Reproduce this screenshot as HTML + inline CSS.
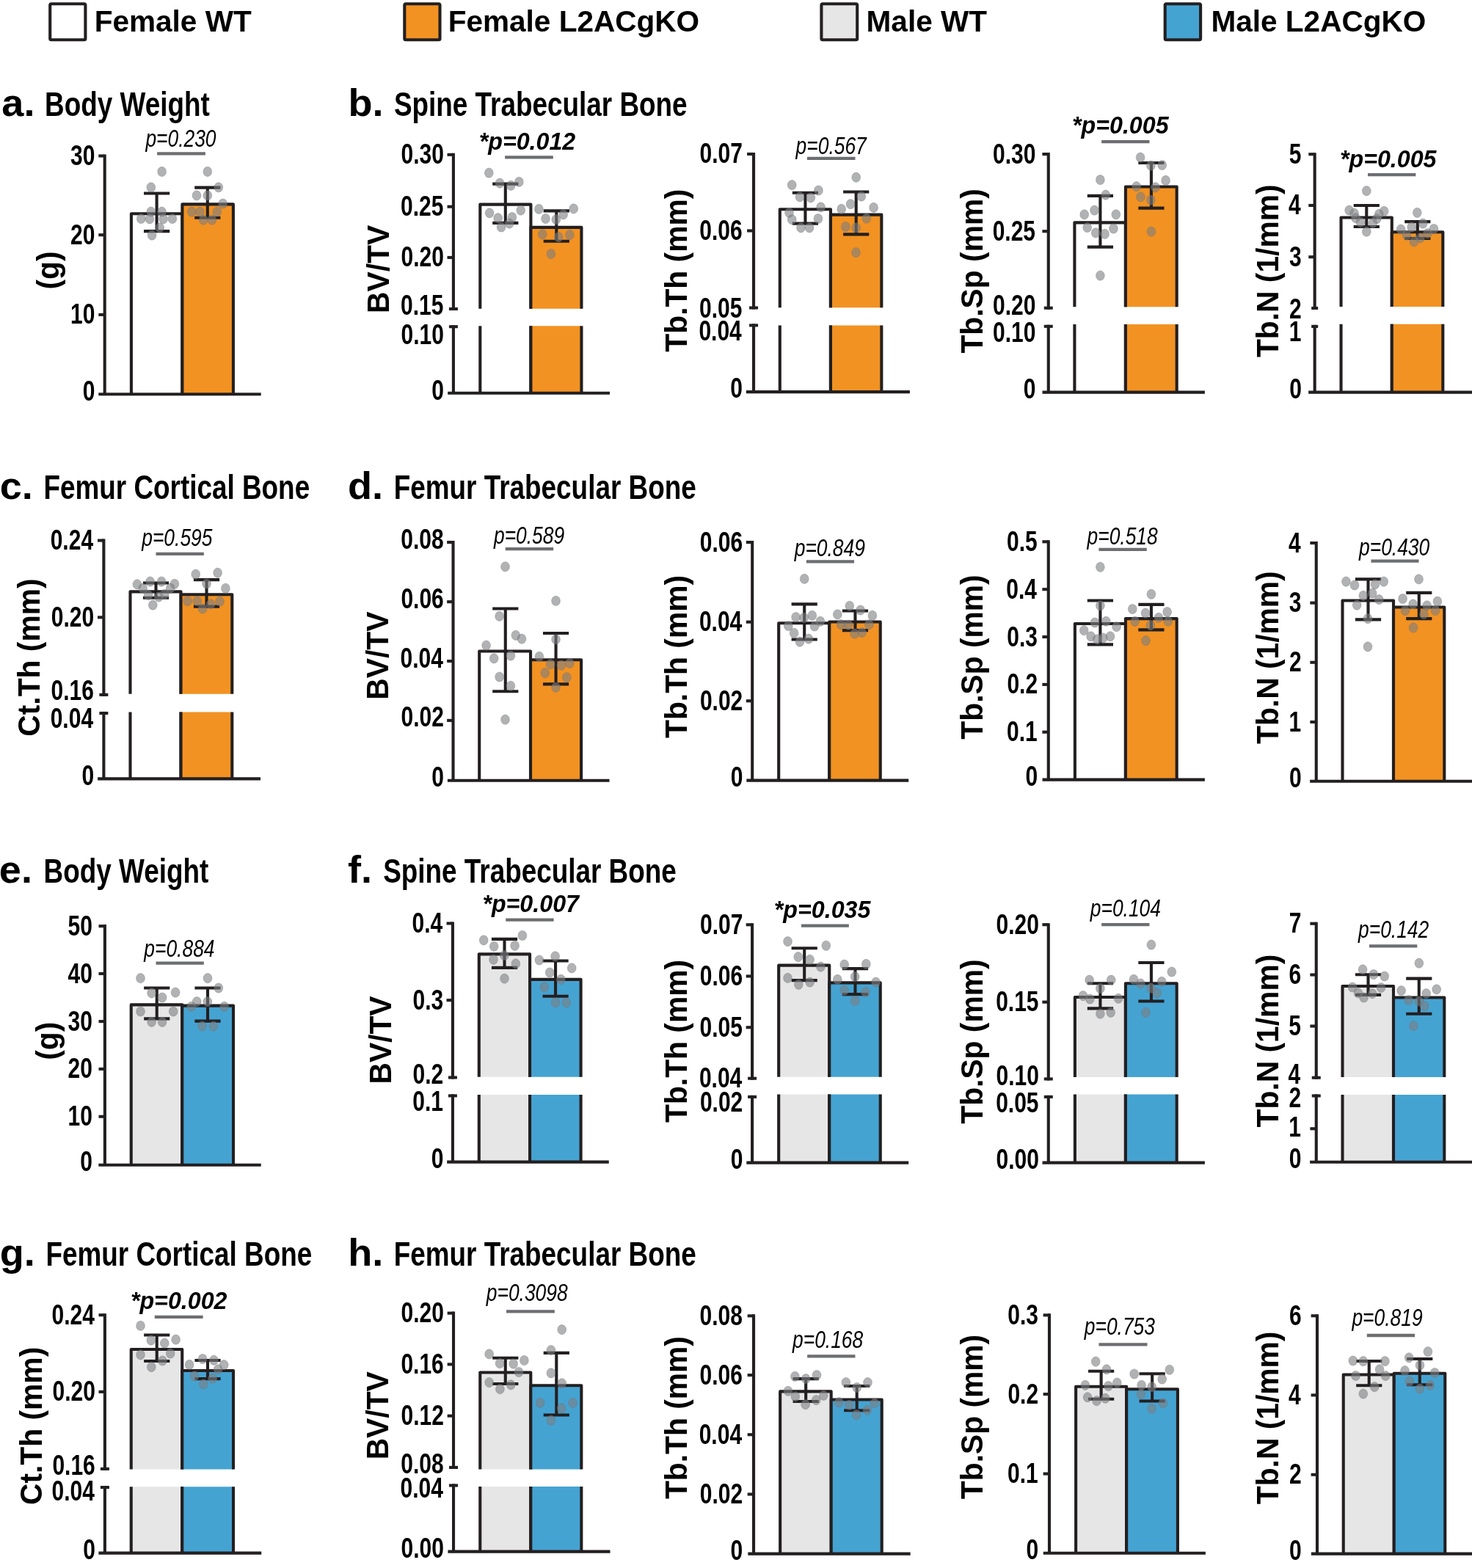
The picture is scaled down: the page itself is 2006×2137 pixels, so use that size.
<!DOCTYPE html>
<html lang="en">
<head>
<meta charset="utf-8">
<title>Bone phenotype of female and male WT and L2ACgKO mice</title>
<style>
html,body{margin:0;padding:0;background:#fff;}
body{width:2006px;height:2137px;overflow:hidden;}
svg{display:block;}
svg text{font-family:'Liberation Sans', Arial, Helvetica, sans-serif;}
</style>
</head>
<body>
<svg xmlns="http://www.w3.org/2000/svg" width="2006" height="2137" viewBox="0 0 2006 2137">
<rect width="2006" height="2137" fill="#fff"/>
<g class="panel" id="p-a">
<path d="M178.90 537.20V291.30H248.40V537.20" fill="#ffffff" stroke="#231f20" stroke-width="4.1" stroke-linejoin="round"/>
<path d="M248.40 537.20V278.40H317.90V537.20" fill="#f29222" stroke="#231f20" stroke-width="4.1" stroke-linejoin="round"/>
<line x1="142.70" y1="210.45" x2="142.70" y2="537.20" stroke="#231f20" stroke-width="4.1" stroke-linecap="butt"/>
<line x1="134.30" y1="537.20" x2="355.70" y2="537.20" stroke="#231f20" stroke-width="4.1" stroke-linecap="butt"/>
<line x1="134.30" y1="212.50" x2="142.70" y2="212.50" stroke="#231f20" stroke-width="4.1" stroke-linecap="butt"/>
<line x1="134.30" y1="320.20" x2="142.70" y2="320.20" stroke="#231f20" stroke-width="4.1" stroke-linecap="butt"/>
<line x1="134.30" y1="428.90" x2="142.70" y2="428.90" stroke="#231f20" stroke-width="4.1" stroke-linecap="butt"/>
<text transform="translate(129.43 225.00) scale(0.815 1.04)" style="font-size:36.8px;font-weight:700;" fill="#000" text-anchor="end">30</text>
<text transform="translate(129.43 332.70) scale(0.815 1.04)" style="font-size:36.8px;font-weight:700;" fill="#000" text-anchor="end">20</text>
<text transform="translate(129.43 441.40) scale(0.815 1.04)" style="font-size:36.8px;font-weight:700;" fill="#000" text-anchor="end">10</text>
<text transform="translate(129.43 545.70) scale(0.815 1.04)" style="font-size:36.8px;font-weight:700;" fill="#000" text-anchor="end">0</text>
<line x1="213.60" y1="263.50" x2="213.60" y2="315.10" stroke="#231f20" stroke-width="4.1" stroke-linecap="butt"/>
<line x1="196.00" y1="263.50" x2="231.20" y2="263.50" stroke="#231f20" stroke-width="4.1" stroke-linecap="butt"/>
<line x1="196.00" y1="315.10" x2="231.20" y2="315.10" stroke="#231f20" stroke-width="4.1" stroke-linecap="butt"/>
<line x1="282.80" y1="255.60" x2="282.80" y2="296.70" stroke="#231f20" stroke-width="4.1" stroke-linecap="butt"/>
<line x1="265.20" y1="255.60" x2="300.40" y2="255.60" stroke="#231f20" stroke-width="4.1" stroke-linecap="butt"/>
<line x1="265.20" y1="296.70" x2="300.40" y2="296.70" stroke="#231f20" stroke-width="4.1" stroke-linecap="butt"/>
<g fill="#7d7f82" fill-opacity="0.6" stroke="#6f7174" stroke-opacity="0.35" stroke-width="1">
<ellipse cx="220.6" cy="233.9" rx="5.9" ry="6.6"/>
<ellipse cx="205.8" cy="255.3" rx="5.9" ry="6.6"/>
<ellipse cx="205.8" cy="288.6" rx="5.9" ry="6.6"/>
<ellipse cx="220.6" cy="288.6" rx="5.9" ry="6.6"/>
<ellipse cx="192.3" cy="298.0" rx="5.9" ry="6.6"/>
<ellipse cx="203.9" cy="298.4" rx="5.9" ry="6.6"/>
<ellipse cx="222.6" cy="298.4" rx="5.9" ry="6.6"/>
<ellipse cx="234.9" cy="298.0" rx="5.9" ry="6.6"/>
<ellipse cx="217.7" cy="310.3" rx="5.9" ry="6.6"/>
<ellipse cx="207.1" cy="320.6" rx="5.9" ry="6.6"/>
<ellipse cx="282.8" cy="233.9" rx="5.9" ry="6.6"/>
<ellipse cx="297.8" cy="255.3" rx="5.9" ry="6.6"/>
<ellipse cx="268.0" cy="266.4" rx="5.9" ry="6.6"/>
<ellipse cx="282.8" cy="266.4" rx="5.9" ry="6.6"/>
<ellipse cx="303.7" cy="277.5" rx="5.9" ry="6.6"/>
<ellipse cx="261.3" cy="288.6" rx="5.9" ry="6.6"/>
<ellipse cx="272.4" cy="288.6" rx="5.9" ry="6.6"/>
<ellipse cx="295.8" cy="288.6" rx="5.9" ry="6.6"/>
<ellipse cx="277.3" cy="299.7" rx="5.9" ry="6.6"/>
<ellipse cx="288.9" cy="299.7" rx="5.9" ry="6.6"/>
</g>
<line x1="214.10" y1="209.40" x2="279.90" y2="209.40" stroke="#6d6e71" stroke-width="4.3" stroke-linecap="butt"/>
<text transform="translate(246.45 200.10) scale(0.82 1.04)" style="font-size:32.2px;font-weight:400;font-style:italic;" fill="#000" text-anchor="middle">p=0.230</text>
<text transform="translate(80.30 368.50) rotate(-90) scale(1.0 1.025)" style="font-size:40.8px;font-weight:700;" fill="#000" text-anchor="middle">(g)</text>
</g>
<g class="panel" id="p-b1">
<path d="M654.30 420.70V278.60H723.40V420.70" fill="#ffffff" stroke="none"/>
<path d="M654.30 535.70V444.20H723.40V535.70" fill="#ffffff" stroke="none"/>
<path d="M654.30 420.70V278.60H723.40V420.70" fill="none" stroke="#231f20" stroke-width="4.1" stroke-linejoin="round"/>
<path d="M654.30 535.70V444.20M723.40 444.20V535.70" fill="none" stroke="#231f20" stroke-width="4.1"/>
<path d="M723.40 420.70V309.91H792.43V420.70" fill="#f29222" stroke="none"/>
<path d="M723.40 535.70V444.20H792.43V535.70" fill="#f29222" stroke="none"/>
<path d="M723.40 420.70V309.91H792.43V420.70" fill="none" stroke="#231f20" stroke-width="4.1" stroke-linejoin="round"/>
<path d="M723.40 535.70V444.20M792.43 444.20V535.70" fill="none" stroke="#231f20" stroke-width="4.1"/>
<line x1="617.90" y1="208.76" x2="617.90" y2="423.05" stroke="#231f20" stroke-width="4.1" stroke-linecap="butt"/>
<line x1="617.90" y1="443.15" x2="617.90" y2="535.70" stroke="#231f20" stroke-width="4.1" stroke-linecap="butt"/>
<line x1="610.20" y1="535.70" x2="831.00" y2="535.70" stroke="#231f20" stroke-width="4.1" stroke-linecap="butt"/>
<line x1="609.50" y1="210.81" x2="617.90" y2="210.81" stroke="#231f20" stroke-width="4.1" stroke-linecap="butt"/>
<line x1="609.50" y1="281.68" x2="617.90" y2="281.68" stroke="#231f20" stroke-width="4.1" stroke-linecap="butt"/>
<line x1="609.50" y1="350.96" x2="617.90" y2="350.96" stroke="#231f20" stroke-width="4.1" stroke-linecap="butt"/>
<line x1="611.90" y1="421.00" x2="623.90" y2="421.00" stroke="#231f20" stroke-width="4.1" stroke-linecap="butt"/>
<line x1="611.90" y1="445.20" x2="623.90" y2="445.20" stroke="#231f20" stroke-width="4.1" stroke-linecap="butt"/>
<text transform="translate(604.83 223.31) scale(0.815 1.04)" style="font-size:36.8px;font-weight:700;" fill="#000" text-anchor="end">0.30</text>
<text transform="translate(604.43 294.18) scale(0.815 1.04)" style="font-size:36.8px;font-weight:700;" fill="#000" text-anchor="end">0.25</text>
<text transform="translate(604.83 363.46) scale(0.815 1.04)" style="font-size:36.8px;font-weight:700;" fill="#000" text-anchor="end">0.20</text>
<text transform="translate(604.43 429.40) scale(0.815 1.04)" style="font-size:36.8px;font-weight:700;" fill="#000" text-anchor="end">0.15</text>
<text transform="translate(604.83 469.20) scale(0.815 1.04)" style="font-size:36.8px;font-weight:700;" fill="#000" text-anchor="end">0.10</text>
<text transform="translate(604.83 544.50) scale(0.815 1.04)" style="font-size:36.8px;font-weight:700;" fill="#000" text-anchor="end">0</text>
<line x1="688.80" y1="250.65" x2="688.80" y2="303.90" stroke="#231f20" stroke-width="4.1" stroke-linecap="butt"/>
<line x1="671.20" y1="250.65" x2="706.40" y2="250.65" stroke="#231f20" stroke-width="4.1" stroke-linecap="butt"/>
<line x1="671.20" y1="303.90" x2="706.40" y2="303.90" stroke="#231f20" stroke-width="4.1" stroke-linecap="butt"/>
<line x1="758.29" y1="287.40" x2="758.29" y2="328.77" stroke="#231f20" stroke-width="4.1" stroke-linecap="butt"/>
<line x1="740.69" y1="287.40" x2="775.89" y2="287.40" stroke="#231f20" stroke-width="4.1" stroke-linecap="butt"/>
<line x1="740.69" y1="328.77" x2="775.89" y2="328.77" stroke="#231f20" stroke-width="4.1" stroke-linecap="butt"/>
<g fill="#7d7f82" fill-opacity="0.6" stroke="#6f7174" stroke-opacity="0.35" stroke-width="1">
<ellipse cx="666.3" cy="235.6" rx="5.9" ry="6.6"/>
<ellipse cx="681.1" cy="249.6" rx="5.9" ry="6.6"/>
<ellipse cx="696.2" cy="252.8" rx="5.9" ry="6.6"/>
<ellipse cx="707.3" cy="247.9" rx="5.9" ry="6.6"/>
<ellipse cx="709.7" cy="286.6" rx="5.9" ry="6.6"/>
<ellipse cx="667.1" cy="290.3" rx="5.9" ry="6.6"/>
<ellipse cx="678.7" cy="297.2" rx="5.9" ry="6.6"/>
<ellipse cx="697.9" cy="296.0" rx="5.9" ry="6.6"/>
<ellipse cx="694.2" cy="304.6" rx="5.9" ry="6.6"/>
<ellipse cx="683.1" cy="309.5" rx="5.9" ry="6.6"/>
<ellipse cx="734.4" cy="284.9" rx="5.9" ry="6.6"/>
<ellipse cx="781.7" cy="284.4" rx="5.9" ry="6.6"/>
<ellipse cx="767.7" cy="292.3" rx="5.9" ry="6.6"/>
<ellipse cx="743.5" cy="298.0" rx="5.9" ry="6.6"/>
<ellipse cx="757.8" cy="299.2" rx="5.9" ry="6.6"/>
<ellipse cx="739.3" cy="319.4" rx="5.9" ry="6.6"/>
<ellipse cx="776.3" cy="320.1" rx="5.9" ry="6.6"/>
<ellipse cx="761.2" cy="323.1" rx="5.9" ry="6.6"/>
<ellipse cx="750.9" cy="346.0" rx="5.9" ry="6.6"/>
</g>
<line x1="688.10" y1="214.40" x2="753.80" y2="214.40" stroke="#6d6e71" stroke-width="4.3" stroke-linecap="butt"/>
<text transform="translate(718.47 204.10) scale(1.0 1.04)" style="font-size:32.2px;font-weight:700;font-style:italic;" fill="#000" text-anchor="middle">*p=0.012</text>
<text transform="translate(529.80 366.90) rotate(-90) scale(1.0 1.025)" style="font-size:40.8px;font-weight:700;" fill="#000" text-anchor="middle">BV/TV</text>
</g>
<g class="panel" id="p-b2">
<path d="M1062.79 419.19V285.26H1131.94V419.19" fill="#ffffff" stroke="none"/>
<path d="M1062.79 534.12V443.60H1131.94V534.12" fill="#ffffff" stroke="none"/>
<path d="M1062.79 419.19V285.26H1131.94V419.19" fill="none" stroke="#231f20" stroke-width="4.1" stroke-linejoin="round"/>
<path d="M1062.79 534.12V443.60M1131.94 443.60V534.12" fill="none" stroke="#231f20" stroke-width="4.1"/>
<path d="M1131.94 419.19V292.65H1201.34V419.19" fill="#f29222" stroke="none"/>
<path d="M1131.94 534.12V443.60H1201.34V534.12" fill="#f29222" stroke="none"/>
<path d="M1131.94 419.19V292.65H1201.34V419.19" fill="none" stroke="#231f20" stroke-width="4.1" stroke-linejoin="round"/>
<path d="M1131.94 534.12V443.60M1201.34 443.60V534.12" fill="none" stroke="#231f20" stroke-width="4.1"/>
<line x1="1027.05" y1="207.90" x2="1027.05" y2="421.54" stroke="#231f20" stroke-width="4.1" stroke-linecap="butt"/>
<line x1="1027.05" y1="441.35" x2="1027.05" y2="534.12" stroke="#231f20" stroke-width="4.1" stroke-linecap="butt"/>
<line x1="1016.82" y1="534.12" x2="1239.92" y2="534.12" stroke="#231f20" stroke-width="4.1" stroke-linecap="butt"/>
<line x1="1018.05" y1="209.95" x2="1027.05" y2="209.95" stroke="#231f20" stroke-width="4.1" stroke-linecap="butt"/>
<line x1="1018.05" y1="314.47" x2="1027.05" y2="314.47" stroke="#231f20" stroke-width="4.1" stroke-linecap="butt"/>
<line x1="1021.05" y1="419.49" x2="1033.05" y2="419.49" stroke="#231f20" stroke-width="4.1" stroke-linecap="butt"/>
<line x1="1021.05" y1="443.40" x2="1033.05" y2="443.40" stroke="#231f20" stroke-width="4.1" stroke-linecap="butt"/>
<text transform="translate(1011.92 222.45) scale(0.815 1.04)" style="font-size:36.8px;font-weight:700;" fill="#000" text-anchor="end">0.07</text>
<text transform="translate(1011.68 326.97) scale(0.815 1.04)" style="font-size:36.8px;font-weight:700;" fill="#000" text-anchor="end">0.06</text>
<text transform="translate(1011.43 433.09) scale(0.815 1.04)" style="font-size:36.8px;font-weight:700;" fill="#000" text-anchor="end">0.05</text>
<text transform="translate(1010.76 463.80) scale(0.815 1.04)" style="font-size:36.8px;font-weight:700;" fill="#000" text-anchor="end">0.04</text>
<text transform="translate(1011.83 542.32) scale(0.815 1.04)" style="font-size:36.8px;font-weight:700;" fill="#000" text-anchor="end">0</text>
<line x1="1097.43" y1="262.70" x2="1097.43" y2="304.61" stroke="#231f20" stroke-width="4.1" stroke-linecap="butt"/>
<line x1="1079.83" y1="262.70" x2="1115.03" y2="262.70" stroke="#231f20" stroke-width="4.1" stroke-linecap="butt"/>
<line x1="1079.83" y1="304.61" x2="1115.03" y2="304.61" stroke="#231f20" stroke-width="4.1" stroke-linecap="butt"/>
<line x1="1166.70" y1="261.47" x2="1166.70" y2="319.40" stroke="#231f20" stroke-width="4.1" stroke-linecap="butt"/>
<line x1="1149.10" y1="261.47" x2="1184.30" y2="261.47" stroke="#231f20" stroke-width="4.1" stroke-linecap="butt"/>
<line x1="1149.10" y1="319.40" x2="1184.30" y2="319.40" stroke="#231f20" stroke-width="4.1" stroke-linecap="butt"/>
<g fill="#7d7f82" fill-opacity="0.6" stroke="#6f7174" stroke-opacity="0.35" stroke-width="1">
<ellipse cx="1079.2" cy="252.1" rx="5.9" ry="6.6"/>
<ellipse cx="1115.4" cy="259.5" rx="5.9" ry="6.6"/>
<ellipse cx="1090.0" cy="268.4" rx="5.9" ry="6.6"/>
<ellipse cx="1104.8" cy="269.4" rx="5.9" ry="6.6"/>
<ellipse cx="1118.6" cy="282.4" rx="5.9" ry="6.6"/>
<ellipse cx="1075.5" cy="289.8" rx="5.9" ry="6.6"/>
<ellipse cx="1079.2" cy="299.2" rx="5.9" ry="6.6"/>
<ellipse cx="1114.9" cy="298.0" rx="5.9" ry="6.6"/>
<ellipse cx="1091.5" cy="310.3" rx="5.9" ry="6.6"/>
<ellipse cx="1103.1" cy="310.3" rx="5.9" ry="6.6"/>
<ellipse cx="1166.7" cy="241.7" rx="5.9" ry="6.6"/>
<ellipse cx="1173.8" cy="267.6" rx="5.9" ry="6.6"/>
<ellipse cx="1159.1" cy="278.2" rx="5.9" ry="6.6"/>
<ellipse cx="1146.7" cy="284.9" rx="5.9" ry="6.6"/>
<ellipse cx="1190.6" cy="282.9" rx="5.9" ry="6.6"/>
<ellipse cx="1180.8" cy="297.7" rx="5.9" ry="6.6"/>
<ellipse cx="1152.4" cy="309.0" rx="5.9" ry="6.6"/>
<ellipse cx="1166.7" cy="310.3" rx="5.9" ry="6.6"/>
<ellipse cx="1166.5" cy="344.1" rx="5.9" ry="6.6"/>
</g>
<line x1="1099.89" y1="215.86" x2="1165.47" y2="215.86" stroke="#6d6e71" stroke-width="4.3" stroke-linecap="butt"/>
<text transform="translate(1132.68 209.70) scale(0.82 1.04)" style="font-size:32.2px;font-weight:400;font-style:italic;" fill="#000" text-anchor="middle">p=0.567</text>
<text transform="translate(936.20 368.70) rotate(-90) scale(1.0 1.025)" style="font-size:40.8px;font-weight:700;" fill="#000" text-anchor="middle">Tb.Th (mm)</text>
</g>
<g class="panel" id="p-b3">
<path d="M1464.40 418.13V303.38H1533.91V418.13" fill="#ffffff" stroke="none"/>
<path d="M1464.40 534.66V441.89H1533.91V534.66" fill="#ffffff" stroke="none"/>
<path d="M1464.40 418.13V303.38H1533.91V418.13" fill="none" stroke="#231f20" stroke-width="4.1" stroke-linejoin="round"/>
<path d="M1464.40 534.66V441.89M1533.91 441.89V534.66" fill="none" stroke="#231f20" stroke-width="4.1"/>
<path d="M1533.91 418.13V254.57H1603.68V418.13" fill="#f29222" stroke="none"/>
<path d="M1533.91 534.66V441.89H1603.68V534.66" fill="#f29222" stroke="none"/>
<path d="M1533.91 418.13V254.57H1603.68V418.13" fill="none" stroke="#231f20" stroke-width="4.1" stroke-linejoin="round"/>
<path d="M1533.91 534.66V441.89M1603.68 441.89V534.66" fill="none" stroke="#231f20" stroke-width="4.1"/>
<line x1="1428.77" y1="208.02" x2="1428.77" y2="421.78" stroke="#231f20" stroke-width="4.1" stroke-linecap="butt"/>
<line x1="1428.77" y1="442.74" x2="1428.77" y2="534.66" stroke="#231f20" stroke-width="4.1" stroke-linecap="butt"/>
<line x1="1420.52" y1="534.66" x2="1641.89" y2="534.66" stroke="#231f20" stroke-width="4.1" stroke-linecap="butt"/>
<line x1="1420.37" y1="210.07" x2="1428.77" y2="210.07" stroke="#231f20" stroke-width="4.1" stroke-linecap="butt"/>
<line x1="1420.37" y1="315.21" x2="1428.77" y2="315.21" stroke="#231f20" stroke-width="4.1" stroke-linecap="butt"/>
<line x1="1422.77" y1="419.73" x2="1434.77" y2="419.73" stroke="#231f20" stroke-width="4.1" stroke-linecap="butt"/>
<line x1="1422.77" y1="444.79" x2="1434.77" y2="444.79" stroke="#231f20" stroke-width="4.1" stroke-linecap="butt"/>
<text transform="translate(1411.43 222.57) scale(0.815 1.04)" style="font-size:36.8px;font-weight:700;" fill="#000" text-anchor="end">0.30</text>
<text transform="translate(1411.03 327.71) scale(0.815 1.04)" style="font-size:36.8px;font-weight:700;" fill="#000" text-anchor="end">0.25</text>
<text transform="translate(1411.43 428.63) scale(0.815 1.04)" style="font-size:36.8px;font-weight:700;" fill="#000" text-anchor="end">0.20</text>
<text transform="translate(1411.43 466.29) scale(0.815 1.04)" style="font-size:36.8px;font-weight:700;" fill="#000" text-anchor="end">0.10</text>
<text transform="translate(1411.43 543.16) scale(0.815 1.04)" style="font-size:36.8px;font-weight:700;" fill="#000" text-anchor="end">0</text>
<line x1="1499.40" y1="266.89" x2="1499.40" y2="336.66" stroke="#231f20" stroke-width="4.1" stroke-linecap="butt"/>
<line x1="1481.80" y1="266.89" x2="1517.00" y2="266.89" stroke="#231f20" stroke-width="4.1" stroke-linecap="butt"/>
<line x1="1481.80" y1="336.66" x2="1517.00" y2="336.66" stroke="#231f20" stroke-width="4.1" stroke-linecap="butt"/>
<line x1="1568.92" y1="222.03" x2="1568.92" y2="283.66" stroke="#231f20" stroke-width="4.1" stroke-linecap="butt"/>
<line x1="1551.32" y1="222.03" x2="1586.52" y2="222.03" stroke="#231f20" stroke-width="4.1" stroke-linecap="butt"/>
<line x1="1551.32" y1="283.66" x2="1586.52" y2="283.66" stroke="#231f20" stroke-width="4.1" stroke-linecap="butt"/>
<g fill="#7d7f82" fill-opacity="0.6" stroke="#6f7174" stroke-opacity="0.35" stroke-width="1">
<ellipse cx="1499.4" cy="245.0" rx="5.9" ry="6.6"/>
<ellipse cx="1506.8" cy="265.7" rx="5.9" ry="6.6"/>
<ellipse cx="1491.5" cy="286.6" rx="5.9" ry="6.6"/>
<ellipse cx="1477.7" cy="292.3" rx="5.9" ry="6.6"/>
<ellipse cx="1520.8" cy="292.3" rx="5.9" ry="6.6"/>
<ellipse cx="1481.7" cy="310.0" rx="5.9" ry="6.6"/>
<ellipse cx="1517.4" cy="311.5" rx="5.9" ry="6.6"/>
<ellipse cx="1493.2" cy="317.4" rx="5.9" ry="6.6"/>
<ellipse cx="1505.6" cy="318.9" rx="5.9" ry="6.6"/>
<ellipse cx="1499.4" cy="375.6" rx="5.9" ry="6.6"/>
<ellipse cx="1554.1" cy="214.6" rx="5.9" ry="6.6"/>
<ellipse cx="1568.4" cy="225.7" rx="5.9" ry="6.6"/>
<ellipse cx="1583.7" cy="225.0" rx="5.9" ry="6.6"/>
<ellipse cx="1588.6" cy="245.9" rx="5.9" ry="6.6"/>
<ellipse cx="1548.7" cy="254.1" rx="5.9" ry="6.6"/>
<ellipse cx="1574.6" cy="255.3" rx="5.9" ry="6.6"/>
<ellipse cx="1554.4" cy="268.4" rx="5.9" ry="6.6"/>
<ellipse cx="1568.4" cy="272.6" rx="5.9" ry="6.6"/>
<ellipse cx="1568.9" cy="315.7" rx="5.9" ry="6.6"/>
</g>
<line x1="1501.13" y1="193.18" x2="1566.45" y2="193.18" stroke="#6d6e71" stroke-width="4.3" stroke-linecap="butt"/>
<text transform="translate(1526.76 182.09) scale(1.0 1.04)" style="font-size:32.2px;font-weight:700;font-style:italic;" fill="#000" text-anchor="middle">*p=0.005</text>
<text transform="translate(1338.60 369.40) rotate(-90) scale(1.0 1.025)" style="font-size:40.8px;font-weight:700;" fill="#000" text-anchor="middle">Tb.Sp (mm)</text>
</g>
<g class="panel" id="p-b4">
<path d="M1827.52 417.88V296.47H1896.80V417.88" fill="#ffffff" stroke="none"/>
<path d="M1827.52 534.66V441.79H1896.80V534.66" fill="#ffffff" stroke="none"/>
<path d="M1827.52 417.88V296.47H1896.80V417.88" fill="none" stroke="#231f20" stroke-width="4.1" stroke-linejoin="round"/>
<path d="M1827.52 534.66V441.79M1896.80 441.79V534.66" fill="none" stroke="#231f20" stroke-width="4.1"/>
<path d="M1896.80 417.88V316.20H1966.31V417.88" fill="#f29222" stroke="none"/>
<path d="M1896.80 534.66V441.79H1966.31V534.66" fill="#f29222" stroke="none"/>
<path d="M1896.80 417.88V316.20H1966.31V417.88" fill="none" stroke="#231f20" stroke-width="4.1" stroke-linejoin="round"/>
<path d="M1896.80 534.66V441.79M1966.31 441.79V534.66" fill="none" stroke="#231f20" stroke-width="4.1"/>
<line x1="1791.66" y1="208.14" x2="1791.66" y2="422.03" stroke="#231f20" stroke-width="4.1" stroke-linecap="butt"/>
<line x1="1791.66" y1="442.84" x2="1791.66" y2="534.66" stroke="#231f20" stroke-width="4.1" stroke-linecap="butt"/>
<line x1="1783.15" y1="534.66" x2="2006.00" y2="534.66" stroke="#231f20" stroke-width="4.1" stroke-linecap="butt"/>
<line x1="1783.26" y1="210.19" x2="1791.66" y2="210.19" stroke="#231f20" stroke-width="4.1" stroke-linecap="butt"/>
<line x1="1783.26" y1="279.96" x2="1791.66" y2="279.96" stroke="#231f20" stroke-width="4.1" stroke-linecap="butt"/>
<line x1="1783.26" y1="350.22" x2="1791.66" y2="350.22" stroke="#231f20" stroke-width="4.1" stroke-linecap="butt"/>
<line x1="1787.16" y1="419.98" x2="1796.16" y2="419.98" stroke="#231f20" stroke-width="4.1" stroke-linecap="butt"/>
<line x1="1787.16" y1="444.89" x2="1796.16" y2="444.89" stroke="#231f20" stroke-width="4.1" stroke-linecap="butt"/>
<text transform="translate(1773.43 222.69) scale(0.815 1.04)" style="font-size:36.8px;font-weight:700;" fill="#000" text-anchor="end">5</text>
<text transform="translate(1772.76 292.46) scale(0.815 1.04)" style="font-size:36.8px;font-weight:700;" fill="#000" text-anchor="end">4</text>
<text transform="translate(1773.68 362.72) scale(0.815 1.04)" style="font-size:36.8px;font-weight:700;" fill="#000" text-anchor="end">3</text>
<text transform="translate(1773.80 433.98) scale(0.815 1.04)" style="font-size:36.8px;font-weight:700;" fill="#000" text-anchor="end">2</text>
<text transform="translate(1773.43 465.19) scale(0.815 1.04)" style="font-size:36.8px;font-weight:700;" fill="#000" text-anchor="end">1</text>
<text transform="translate(1773.83 543.16) scale(0.815 1.04)" style="font-size:36.8px;font-weight:700;" fill="#000" text-anchor="end">0</text>
<line x1="1862.28" y1="279.96" x2="1862.28" y2="309.05" stroke="#231f20" stroke-width="4.1" stroke-linecap="butt"/>
<line x1="1844.68" y1="279.96" x2="1879.88" y2="279.96" stroke="#231f20" stroke-width="4.1" stroke-linecap="butt"/>
<line x1="1844.68" y1="309.05" x2="1879.88" y2="309.05" stroke="#231f20" stroke-width="4.1" stroke-linecap="butt"/>
<line x1="1931.80" y1="302.14" x2="1931.80" y2="325.07" stroke="#231f20" stroke-width="4.1" stroke-linecap="butt"/>
<line x1="1914.20" y1="302.14" x2="1949.40" y2="302.14" stroke="#231f20" stroke-width="4.1" stroke-linecap="butt"/>
<line x1="1914.20" y1="325.07" x2="1949.40" y2="325.07" stroke="#231f20" stroke-width="4.1" stroke-linecap="butt"/>
<g fill="#7d7f82" fill-opacity="0.6" stroke="#6f7174" stroke-opacity="0.35" stroke-width="1">
<ellipse cx="1862.3" cy="260.2" rx="5.9" ry="6.6"/>
<ellipse cx="1838.6" cy="286.6" rx="5.9" ry="6.6"/>
<ellipse cx="1886.2" cy="287.8" rx="5.9" ry="6.6"/>
<ellipse cx="1845.5" cy="290.6" rx="5.9" ry="6.6"/>
<ellipse cx="1879.3" cy="291.8" rx="5.9" ry="6.6"/>
<ellipse cx="1847.5" cy="297.2" rx="5.9" ry="6.6"/>
<ellipse cx="1876.3" cy="298.0" rx="5.9" ry="6.6"/>
<ellipse cx="1854.1" cy="302.9" rx="5.9" ry="6.6"/>
<ellipse cx="1870.9" cy="303.9" rx="5.9" ry="6.6"/>
<ellipse cx="1862.3" cy="315.7" rx="5.9" ry="6.6"/>
<ellipse cx="1931.3" cy="289.8" rx="5.9" ry="6.6"/>
<ellipse cx="1939.2" cy="304.6" rx="5.9" ry="6.6"/>
<ellipse cx="1923.7" cy="309.5" rx="5.9" ry="6.6"/>
<ellipse cx="1909.1" cy="312.7" rx="5.9" ry="6.6"/>
<ellipse cx="1954.0" cy="312.0" rx="5.9" ry="6.6"/>
<ellipse cx="1945.4" cy="318.2" rx="5.9" ry="6.6"/>
<ellipse cx="1917.0" cy="320.6" rx="5.9" ry="6.6"/>
<ellipse cx="1935.5" cy="324.3" rx="5.9" ry="6.6"/>
<ellipse cx="1926.9" cy="329.3" rx="5.9" ry="6.6"/>
</g>
<line x1="1864.01" y1="238.05" x2="1929.34" y2="238.05" stroke="#6d6e71" stroke-width="4.3" stroke-linecap="butt"/>
<text transform="translate(1891.74 227.70) scale(1.0 1.04)" style="font-size:32.2px;font-weight:700;font-style:italic;" fill="#000" text-anchor="middle">*p=0.005</text>
<text transform="translate(1742.00 369.30) rotate(-90) scale(1.0 1.025)" style="font-size:40.8px;font-weight:700;" fill="#000" text-anchor="middle">Tb.N (1/mm)</text>
</g>
<g class="panel" id="p-c">
<path d="M177.49 945.68V806.37H246.52V945.68" fill="#ffffff" stroke="none"/>
<path d="M177.49 1061.37V970.39H246.52V1061.37" fill="#ffffff" stroke="none"/>
<path d="M177.49 945.68V806.37H246.52V945.68" fill="none" stroke="#231f20" stroke-width="4.1" stroke-linejoin="round"/>
<path d="M177.49 1061.37V970.39M246.52 970.39V1061.37" fill="none" stroke="#231f20" stroke-width="4.1"/>
<path d="M246.52 945.68V810.31H316.28V945.68" fill="#f29222" stroke="none"/>
<path d="M246.52 1061.37V970.39H316.28V1061.37" fill="#f29222" stroke="none"/>
<path d="M246.52 945.68V810.31H316.28V945.68" fill="none" stroke="#231f20" stroke-width="4.1" stroke-linejoin="round"/>
<path d="M246.52 1061.37V970.39M316.28 970.39V1061.37" fill="none" stroke="#231f20" stroke-width="4.1"/>
<line x1="141.38" y1="734.55" x2="141.38" y2="948.93" stroke="#231f20" stroke-width="4.1" stroke-linecap="butt"/>
<line x1="141.38" y1="969.94" x2="141.38" y2="1061.37" stroke="#231f20" stroke-width="4.1" stroke-linecap="butt"/>
<line x1="133.12" y1="1061.37" x2="354.99" y2="1061.37" stroke="#231f20" stroke-width="4.1" stroke-linecap="butt"/>
<line x1="132.98" y1="736.60" x2="141.38" y2="736.60" stroke="#231f20" stroke-width="4.1" stroke-linecap="butt"/>
<line x1="132.98" y1="841.37" x2="141.38" y2="841.37" stroke="#231f20" stroke-width="4.1" stroke-linecap="butt"/>
<line x1="135.38" y1="946.88" x2="147.38" y2="946.88" stroke="#231f20" stroke-width="4.1" stroke-linecap="butt"/>
<line x1="135.38" y1="971.99" x2="147.38" y2="971.99" stroke="#231f20" stroke-width="4.1" stroke-linecap="butt"/>
<text transform="translate(127.06 749.10) scale(0.815 1.04)" style="font-size:36.8px;font-weight:700;" fill="#000" text-anchor="end">0.24</text>
<text transform="translate(128.13 853.87) scale(0.815 1.04)" style="font-size:36.8px;font-weight:700;" fill="#000" text-anchor="end">0.20</text>
<text transform="translate(127.98 954.48) scale(0.815 1.04)" style="font-size:36.8px;font-weight:700;" fill="#000" text-anchor="end">0.16</text>
<text transform="translate(127.06 991.79) scale(0.815 1.04)" style="font-size:36.8px;font-weight:700;" fill="#000" text-anchor="end">0.04</text>
<text transform="translate(128.13 1069.87) scale(0.815 1.04)" style="font-size:36.8px;font-weight:700;" fill="#000" text-anchor="end">0</text>
<line x1="212.50" y1="794.53" x2="212.50" y2="814.75" stroke="#231f20" stroke-width="4.1" stroke-linecap="butt"/>
<line x1="194.90" y1="794.53" x2="230.10" y2="794.53" stroke="#231f20" stroke-width="4.1" stroke-linecap="butt"/>
<line x1="194.90" y1="814.75" x2="230.10" y2="814.75" stroke="#231f20" stroke-width="4.1" stroke-linecap="butt"/>
<line x1="281.52" y1="790.10" x2="281.52" y2="826.58" stroke="#231f20" stroke-width="4.1" stroke-linecap="butt"/>
<line x1="263.92" y1="790.10" x2="299.12" y2="790.10" stroke="#231f20" stroke-width="4.1" stroke-linecap="butt"/>
<line x1="263.92" y1="826.58" x2="299.12" y2="826.58" stroke="#231f20" stroke-width="4.1" stroke-linecap="butt"/>
<g fill="#7d7f82" fill-opacity="0.6" stroke="#6f7174" stroke-opacity="0.35" stroke-width="1">
<ellipse cx="186.9" cy="796.3" rx="5.9" ry="6.6"/>
<ellipse cx="204.6" cy="792.6" rx="5.9" ry="6.6"/>
<ellipse cx="220.1" cy="792.6" rx="5.9" ry="6.6"/>
<ellipse cx="237.9" cy="795.8" rx="5.9" ry="6.6"/>
<ellipse cx="194.7" cy="801.9" rx="5.9" ry="6.6"/>
<ellipse cx="232.2" cy="801.7" rx="5.9" ry="6.6"/>
<ellipse cx="202.1" cy="811.1" rx="5.9" ry="6.6"/>
<ellipse cx="224.3" cy="809.8" rx="5.9" ry="6.6"/>
<ellipse cx="216.4" cy="813.5" rx="5.9" ry="6.6"/>
<ellipse cx="208.3" cy="824.6" rx="5.9" ry="6.6"/>
<ellipse cx="266.7" cy="782.7" rx="5.9" ry="6.6"/>
<ellipse cx="296.6" cy="780.7" rx="5.9" ry="6.6"/>
<ellipse cx="281.5" cy="795.5" rx="5.9" ry="6.6"/>
<ellipse cx="307.4" cy="801.9" rx="5.9" ry="6.6"/>
<ellipse cx="255.6" cy="819.2" rx="5.9" ry="6.6"/>
<ellipse cx="268.7" cy="819.2" rx="5.9" ry="6.6"/>
<ellipse cx="299.5" cy="819.7" rx="5.9" ry="6.6"/>
<ellipse cx="287.2" cy="823.4" rx="5.9" ry="6.6"/>
<ellipse cx="276.1" cy="829.5" rx="5.9" ry="6.6"/>
</g>
<line x1="212.50" y1="754.85" x2="277.83" y2="754.85" stroke="#6d6e71" stroke-width="4.3" stroke-linecap="butt"/>
<text transform="translate(241.34 744.00) scale(0.82 1.04)" style="font-size:32.2px;font-weight:400;font-style:italic;" fill="#000" text-anchor="middle">p=0.595</text>
<text transform="translate(53.70 896.10) rotate(-90) scale(1.0 1.025)" style="font-size:40.8px;font-weight:700;" fill="#000" text-anchor="middle">Ct.Th (mm)</text>
</g>
<g class="panel" id="p-d1">
<path d="M653.21 1063.69V887.47H723.03V1063.69" fill="#ffffff" stroke="#231f20" stroke-width="4.1" stroke-linejoin="round"/>
<path d="M723.03 1063.69V899.20H792.06V1063.69" fill="#f29222" stroke="#231f20" stroke-width="4.1" stroke-linejoin="round"/>
<line x1="617.52" y1="737.02" x2="617.52" y2="1063.69" stroke="#231f20" stroke-width="4.1" stroke-linecap="butt"/>
<line x1="609.88" y1="1063.69" x2="830.52" y2="1063.69" stroke="#231f20" stroke-width="4.1" stroke-linecap="butt"/>
<line x1="609.12" y1="739.07" x2="617.52" y2="739.07" stroke="#231f20" stroke-width="4.1" stroke-linecap="butt"/>
<line x1="609.12" y1="820.17" x2="617.52" y2="820.17" stroke="#231f20" stroke-width="4.1" stroke-linecap="butt"/>
<line x1="609.12" y1="901.03" x2="617.52" y2="901.03" stroke="#231f20" stroke-width="4.1" stroke-linecap="butt"/>
<line x1="609.12" y1="981.89" x2="617.52" y2="981.89" stroke="#231f20" stroke-width="4.1" stroke-linecap="butt"/>
<text transform="translate(604.62 747.57) scale(0.815 1.04)" style="font-size:36.8px;font-weight:700;" fill="#000" text-anchor="end">0.08</text>
<text transform="translate(604.78 828.67) scale(0.815 1.04)" style="font-size:36.8px;font-weight:700;" fill="#000" text-anchor="end">0.06</text>
<text transform="translate(603.86 909.53) scale(0.815 1.04)" style="font-size:36.8px;font-weight:700;" fill="#000" text-anchor="end">0.04</text>
<text transform="translate(604.90 990.39) scale(0.815 1.04)" style="font-size:36.8px;font-weight:700;" fill="#000" text-anchor="end">0.02</text>
<text transform="translate(604.93 1072.19) scale(0.815 1.04)" style="font-size:36.8px;font-weight:700;" fill="#000" text-anchor="end">0</text>
<line x1="688.77" y1="829.54" x2="688.77" y2="942.20" stroke="#231f20" stroke-width="4.1" stroke-linecap="butt"/>
<line x1="671.17" y1="829.54" x2="706.37" y2="829.54" stroke="#231f20" stroke-width="4.1" stroke-linecap="butt"/>
<line x1="671.17" y1="942.20" x2="706.37" y2="942.20" stroke="#231f20" stroke-width="4.1" stroke-linecap="butt"/>
<line x1="757.55" y1="863.07" x2="757.55" y2="932.34" stroke="#231f20" stroke-width="4.1" stroke-linecap="butt"/>
<line x1="739.95" y1="863.07" x2="775.15" y2="863.07" stroke="#231f20" stroke-width="4.1" stroke-linecap="butt"/>
<line x1="739.95" y1="932.34" x2="775.15" y2="932.34" stroke="#231f20" stroke-width="4.1" stroke-linecap="butt"/>
<g fill="#7d7f82" fill-opacity="0.6" stroke="#6f7174" stroke-opacity="0.35" stroke-width="1">
<ellipse cx="688.5" cy="772.3" rx="5.9" ry="6.6"/>
<ellipse cx="680.6" cy="839.9" rx="5.9" ry="6.6"/>
<ellipse cx="702.8" cy="865.8" rx="5.9" ry="6.6"/>
<ellipse cx="711.0" cy="870.7" rx="5.9" ry="6.6"/>
<ellipse cx="662.6" cy="879.6" rx="5.9" ry="6.6"/>
<ellipse cx="695.9" cy="893.6" rx="5.9" ry="6.6"/>
<ellipse cx="673.2" cy="897.3" rx="5.9" ry="6.6"/>
<ellipse cx="680.6" cy="922.5" rx="5.9" ry="6.6"/>
<ellipse cx="695.9" cy="934.8" rx="5.9" ry="6.6"/>
<ellipse cx="688.5" cy="980.7" rx="5.9" ry="6.6"/>
<ellipse cx="757.5" cy="818.9" rx="5.9" ry="6.6"/>
<ellipse cx="757.5" cy="871.4" rx="5.9" ry="6.6"/>
<ellipse cx="734.9" cy="894.9" rx="5.9" ry="6.6"/>
<ellipse cx="750.2" cy="905.2" rx="5.9" ry="6.6"/>
<ellipse cx="764.9" cy="906.7" rx="5.9" ry="6.6"/>
<ellipse cx="776.3" cy="904.0" rx="5.9" ry="6.6"/>
<ellipse cx="742.8" cy="917.1" rx="5.9" ry="6.6"/>
<ellipse cx="772.3" cy="923.2" rx="5.9" ry="6.6"/>
<ellipse cx="757.5" cy="936.8" rx="5.9" ry="6.6"/>
</g>
<line x1="688.77" y1="748.19" x2="754.10" y2="748.19" stroke="#6d6e71" stroke-width="4.3" stroke-linecap="butt"/>
<text transform="translate(721.06 740.79) scale(0.82 1.04)" style="font-size:32.2px;font-weight:400;font-style:italic;" fill="#000" text-anchor="middle">p=0.589</text>
<text transform="translate(529.20 893.60) rotate(-90) scale(1.0 1.025)" style="font-size:40.8px;font-weight:700;" fill="#000" text-anchor="middle">BV/TV</text>
</g>
<g class="panel" id="p-d2">
<path d="M1061.19 1063.59V849.26H1130.22V1063.59" fill="#ffffff" stroke="#231f20" stroke-width="4.1" stroke-linejoin="round"/>
<path d="M1130.22 1063.59V847.54H1199.73V1063.59" fill="#f29222" stroke="#231f20" stroke-width="4.1" stroke-linejoin="round"/>
<line x1="1025.20" y1="737.02" x2="1025.20" y2="1063.59" stroke="#231f20" stroke-width="4.1" stroke-linecap="butt"/>
<line x1="1017.31" y1="1063.59" x2="1238.19" y2="1063.59" stroke="#231f20" stroke-width="4.1" stroke-linecap="butt"/>
<line x1="1016.80" y1="739.07" x2="1025.20" y2="739.07" stroke="#231f20" stroke-width="4.1" stroke-linecap="butt"/>
<line x1="1016.80" y1="847.69" x2="1025.20" y2="847.69" stroke="#231f20" stroke-width="4.1" stroke-linecap="butt"/>
<line x1="1016.80" y1="955.26" x2="1025.20" y2="955.26" stroke="#231f20" stroke-width="4.1" stroke-linecap="butt"/>
<text transform="translate(1012.18 751.57) scale(0.815 1.04)" style="font-size:36.8px;font-weight:700;" fill="#000" text-anchor="end">0.06</text>
<text transform="translate(1011.26 860.19) scale(0.815 1.04)" style="font-size:36.8px;font-weight:700;" fill="#000" text-anchor="end">0.04</text>
<text transform="translate(1012.30 967.76) scale(0.815 1.04)" style="font-size:36.8px;font-weight:700;" fill="#000" text-anchor="end">0.02</text>
<text transform="translate(1012.33 1072.09) scale(0.815 1.04)" style="font-size:36.8px;font-weight:700;" fill="#000" text-anchor="end">0</text>
<line x1="1096.20" y1="823.38" x2="1096.20" y2="871.45" stroke="#231f20" stroke-width="4.1" stroke-linecap="butt"/>
<line x1="1078.60" y1="823.38" x2="1113.80" y2="823.38" stroke="#231f20" stroke-width="4.1" stroke-linecap="butt"/>
<line x1="1078.60" y1="871.45" x2="1113.80" y2="871.45" stroke="#231f20" stroke-width="4.1" stroke-linecap="butt"/>
<line x1="1165.47" y1="832.50" x2="1165.47" y2="859.12" stroke="#231f20" stroke-width="4.1" stroke-linecap="butt"/>
<line x1="1147.87" y1="832.50" x2="1183.07" y2="832.50" stroke="#231f20" stroke-width="4.1" stroke-linecap="butt"/>
<line x1="1147.87" y1="859.12" x2="1183.07" y2="859.12" stroke="#231f20" stroke-width="4.1" stroke-linecap="butt"/>
<g fill="#7d7f82" fill-opacity="0.6" stroke="#6f7174" stroke-opacity="0.35" stroke-width="1">
<ellipse cx="1096.2" cy="788.9" rx="5.9" ry="6.6"/>
<ellipse cx="1084.6" cy="841.1" rx="5.9" ry="6.6"/>
<ellipse cx="1106.8" cy="838.9" rx="5.9" ry="6.6"/>
<ellipse cx="1095.7" cy="841.9" rx="5.9" ry="6.6"/>
<ellipse cx="1117.9" cy="846.8" rx="5.9" ry="6.6"/>
<ellipse cx="1074.3" cy="853.0" rx="5.9" ry="6.6"/>
<ellipse cx="1110.0" cy="853.5" rx="5.9" ry="6.6"/>
<ellipse cx="1082.1" cy="862.8" rx="5.9" ry="6.6"/>
<ellipse cx="1101.9" cy="870.7" rx="5.9" ry="6.6"/>
<ellipse cx="1090.0" cy="874.7" rx="5.9" ry="6.6"/>
<ellipse cx="1157.8" cy="825.8" rx="5.9" ry="6.6"/>
<ellipse cx="1172.6" cy="831.5" rx="5.9" ry="6.6"/>
<ellipse cx="1141.3" cy="837.4" rx="5.9" ry="6.6"/>
<ellipse cx="1188.9" cy="838.9" rx="5.9" ry="6.6"/>
<ellipse cx="1146.2" cy="851.2" rx="5.9" ry="6.6"/>
<ellipse cx="1156.1" cy="851.7" rx="5.9" ry="6.6"/>
<ellipse cx="1184.4" cy="851.2" rx="5.9" ry="6.6"/>
<ellipse cx="1174.6" cy="862.1" rx="5.9" ry="6.6"/>
<ellipse cx="1164.7" cy="863.6" rx="5.9" ry="6.6"/>
</g>
<line x1="1098.91" y1="765.45" x2="1163.99" y2="765.45" stroke="#6d6e71" stroke-width="4.3" stroke-linecap="butt"/>
<text transform="translate(1130.83 758.05) scale(0.82 1.04)" style="font-size:32.2px;font-weight:400;font-style:italic;" fill="#000" text-anchor="middle">p=0.849</text>
<text transform="translate(936.20 895.00) rotate(-90) scale(1.0 1.025)" style="font-size:40.8px;font-weight:700;" fill="#000" text-anchor="middle">Tb.Th (mm)</text>
</g>
<g class="panel" id="p-d3">
<path d="M1464.89 1062.60V850.00H1533.91V1062.60" fill="#ffffff" stroke="#231f20" stroke-width="4.1" stroke-linejoin="round"/>
<path d="M1533.91 1062.60V843.10H1603.68V1062.60" fill="#f29222" stroke="#231f20" stroke-width="4.1" stroke-linejoin="round"/>
<line x1="1428.77" y1="736.25" x2="1428.77" y2="1062.60" stroke="#231f20" stroke-width="4.1" stroke-linecap="butt"/>
<line x1="1420.52" y1="1062.60" x2="1641.89" y2="1062.60" stroke="#231f20" stroke-width="4.1" stroke-linecap="butt"/>
<line x1="1420.37" y1="738.30" x2="1428.77" y2="738.30" stroke="#231f20" stroke-width="4.1" stroke-linecap="butt"/>
<line x1="1420.37" y1="803.20" x2="1428.77" y2="803.20" stroke="#231f20" stroke-width="4.1" stroke-linecap="butt"/>
<line x1="1420.37" y1="868.00" x2="1428.77" y2="868.00" stroke="#231f20" stroke-width="4.1" stroke-linecap="butt"/>
<line x1="1420.37" y1="932.90" x2="1428.77" y2="932.90" stroke="#231f20" stroke-width="4.1" stroke-linecap="butt"/>
<line x1="1420.37" y1="997.70" x2="1428.77" y2="997.70" stroke="#231f20" stroke-width="4.1" stroke-linecap="butt"/>
<text transform="translate(1413.73 750.80) scale(0.815 1.04)" style="font-size:36.8px;font-weight:700;" fill="#000" text-anchor="end">0.5</text>
<text transform="translate(1413.06 815.70) scale(0.815 1.04)" style="font-size:36.8px;font-weight:700;" fill="#000" text-anchor="end">0.4</text>
<text transform="translate(1413.98 880.50) scale(0.815 1.04)" style="font-size:36.8px;font-weight:700;" fill="#000" text-anchor="end">0.3</text>
<text transform="translate(1414.10 945.40) scale(0.815 1.04)" style="font-size:36.8px;font-weight:700;" fill="#000" text-anchor="end">0.2</text>
<text transform="translate(1413.73 1010.20) scale(0.815 1.04)" style="font-size:36.8px;font-weight:700;" fill="#000" text-anchor="end">0.1</text>
<text transform="translate(1414.13 1071.10) scale(0.815 1.04)" style="font-size:36.8px;font-weight:700;" fill="#000" text-anchor="end">0</text>
<line x1="1499.40" y1="818.45" x2="1499.40" y2="878.35" stroke="#231f20" stroke-width="4.1" stroke-linecap="butt"/>
<line x1="1481.80" y1="818.45" x2="1517.00" y2="818.45" stroke="#231f20" stroke-width="4.1" stroke-linecap="butt"/>
<line x1="1481.80" y1="878.35" x2="1517.00" y2="878.35" stroke="#231f20" stroke-width="4.1" stroke-linecap="butt"/>
<line x1="1568.92" y1="823.87" x2="1568.92" y2="858.38" stroke="#231f20" stroke-width="4.1" stroke-linecap="butt"/>
<line x1="1551.32" y1="823.87" x2="1586.52" y2="823.87" stroke="#231f20" stroke-width="4.1" stroke-linecap="butt"/>
<line x1="1551.32" y1="858.38" x2="1586.52" y2="858.38" stroke="#231f20" stroke-width="4.1" stroke-linecap="butt"/>
<g fill="#7d7f82" fill-opacity="0.6" stroke="#6f7174" stroke-opacity="0.35" stroke-width="1">
<ellipse cx="1499.4" cy="772.8" rx="5.9" ry="6.6"/>
<ellipse cx="1499.4" cy="825.3" rx="5.9" ry="6.6"/>
<ellipse cx="1492.0" cy="848.5" rx="5.9" ry="6.6"/>
<ellipse cx="1507.3" cy="846.8" rx="5.9" ry="6.6"/>
<ellipse cx="1521.6" cy="854.2" rx="5.9" ry="6.6"/>
<ellipse cx="1477.2" cy="859.1" rx="5.9" ry="6.6"/>
<ellipse cx="1486.6" cy="867.3" rx="5.9" ry="6.6"/>
<ellipse cx="1513.0" cy="867.3" rx="5.9" ry="6.6"/>
<ellipse cx="1495.2" cy="871.4" rx="5.9" ry="6.6"/>
<ellipse cx="1503.1" cy="869.5" rx="5.9" ry="6.6"/>
<ellipse cx="1568.9" cy="809.8" rx="5.9" ry="6.6"/>
<ellipse cx="1543.3" cy="830.0" rx="5.9" ry="6.6"/>
<ellipse cx="1561.0" cy="835.7" rx="5.9" ry="6.6"/>
<ellipse cx="1590.6" cy="834.0" rx="5.9" ry="6.6"/>
<ellipse cx="1579.0" cy="841.9" rx="5.9" ry="6.6"/>
<ellipse cx="1546.7" cy="846.8" rx="5.9" ry="6.6"/>
<ellipse cx="1591.8" cy="846.8" rx="5.9" ry="6.6"/>
<ellipse cx="1567.9" cy="852.2" rx="5.9" ry="6.6"/>
<ellipse cx="1561.5" cy="873.2" rx="5.9" ry="6.6"/>
</g>
<line x1="1497.43" y1="748.93" x2="1562.76" y2="748.93" stroke="#6d6e71" stroke-width="4.3" stroke-linecap="butt"/>
<text transform="translate(1529.60 742.03) scale(0.82 1.04)" style="font-size:32.2px;font-weight:400;font-style:italic;" fill="#000" text-anchor="middle">p=0.518</text>
<text transform="translate(1338.60 895.50) rotate(-90) scale(1.0 1.025)" style="font-size:40.8px;font-weight:700;" fill="#000" text-anchor="middle">Tb.Sp (mm)</text>
</g>
<g class="panel" id="p-d4">
<path d="M1829.50 1064.77V818.45H1899.01V1064.77" fill="#ffffff" stroke="#231f20" stroke-width="4.1" stroke-linejoin="round"/>
<path d="M1899.01 1064.77V827.57H1968.29V1064.77" fill="#f29222" stroke="#231f20" stroke-width="4.1" stroke-linejoin="round"/>
<line x1="1793.75" y1="738.00" x2="1793.75" y2="1064.77" stroke="#231f20" stroke-width="4.1" stroke-linecap="butt"/>
<line x1="1785.12" y1="1064.77" x2="2006.00" y2="1064.77" stroke="#231f20" stroke-width="4.1" stroke-linecap="butt"/>
<line x1="1785.35" y1="740.05" x2="1793.75" y2="740.05" stroke="#231f20" stroke-width="4.1" stroke-linecap="butt"/>
<line x1="1785.35" y1="821.65" x2="1793.75" y2="821.65" stroke="#231f20" stroke-width="4.1" stroke-linecap="butt"/>
<line x1="1785.35" y1="902.76" x2="1793.75" y2="902.76" stroke="#231f20" stroke-width="4.1" stroke-linecap="butt"/>
<line x1="1785.35" y1="984.01" x2="1793.75" y2="984.01" stroke="#231f20" stroke-width="4.1" stroke-linecap="butt"/>
<text transform="translate(1772.56 752.55) scale(0.815 1.04)" style="font-size:36.8px;font-weight:700;" fill="#000" text-anchor="end">4</text>
<text transform="translate(1773.48 834.15) scale(0.815 1.04)" style="font-size:36.8px;font-weight:700;" fill="#000" text-anchor="end">3</text>
<text transform="translate(1773.60 915.26) scale(0.815 1.04)" style="font-size:36.8px;font-weight:700;" fill="#000" text-anchor="end">2</text>
<text transform="translate(1773.23 996.51) scale(0.815 1.04)" style="font-size:36.8px;font-weight:700;" fill="#000" text-anchor="end">1</text>
<text transform="translate(1773.63 1073.27) scale(0.815 1.04)" style="font-size:36.8px;font-weight:700;" fill="#000" text-anchor="end">0</text>
<line x1="1864.50" y1="789.36" x2="1864.50" y2="844.33" stroke="#231f20" stroke-width="4.1" stroke-linecap="butt"/>
<line x1="1846.90" y1="789.36" x2="1882.10" y2="789.36" stroke="#231f20" stroke-width="4.1" stroke-linecap="butt"/>
<line x1="1846.90" y1="844.33" x2="1882.10" y2="844.33" stroke="#231f20" stroke-width="4.1" stroke-linecap="butt"/>
<line x1="1933.77" y1="807.85" x2="1933.77" y2="843.10" stroke="#231f20" stroke-width="4.1" stroke-linecap="butt"/>
<line x1="1916.17" y1="807.85" x2="1951.37" y2="807.85" stroke="#231f20" stroke-width="4.1" stroke-linecap="butt"/>
<line x1="1916.17" y1="843.10" x2="1951.37" y2="843.10" stroke="#231f20" stroke-width="4.1" stroke-linecap="butt"/>
<g fill="#7d7f82" fill-opacity="0.6" stroke="#6f7174" stroke-opacity="0.35" stroke-width="1">
<ellipse cx="1834.4" cy="792.6" rx="5.9" ry="6.6"/>
<ellipse cx="1885.7" cy="792.6" rx="5.9" ry="6.6"/>
<ellipse cx="1846.0" cy="797.5" rx="5.9" ry="6.6"/>
<ellipse cx="1873.9" cy="796.3" rx="5.9" ry="6.6"/>
<ellipse cx="1870.2" cy="808.6" rx="5.9" ry="6.6"/>
<ellipse cx="1857.8" cy="811.8" rx="5.9" ry="6.6"/>
<ellipse cx="1879.3" cy="817.2" rx="5.9" ry="6.6"/>
<ellipse cx="1849.2" cy="824.6" rx="5.9" ry="6.6"/>
<ellipse cx="1864.0" cy="843.1" rx="5.9" ry="6.6"/>
<ellipse cx="1864.0" cy="881.3" rx="5.9" ry="6.6"/>
<ellipse cx="1933.5" cy="789.4" rx="5.9" ry="6.6"/>
<ellipse cx="1911.6" cy="816.0" rx="5.9" ry="6.6"/>
<ellipse cx="1958.9" cy="819.7" rx="5.9" ry="6.6"/>
<ellipse cx="1925.6" cy="823.4" rx="5.9" ry="6.6"/>
<ellipse cx="1944.6" cy="825.3" rx="5.9" ry="6.6"/>
<ellipse cx="1915.0" cy="832.0" rx="5.9" ry="6.6"/>
<ellipse cx="1956.0" cy="832.0" rx="5.9" ry="6.6"/>
<ellipse cx="1940.4" cy="836.9" rx="5.9" ry="6.6"/>
<ellipse cx="1926.1" cy="855.4" rx="5.9" ry="6.6"/>
</g>
<line x1="1868.45" y1="764.71" x2="1933.53" y2="764.71" stroke="#6d6e71" stroke-width="4.3" stroke-linecap="butt"/>
<text transform="translate(1900.12 757.31) scale(0.82 1.04)" style="font-size:32.2px;font-weight:400;font-style:italic;" fill="#000" text-anchor="middle">p=0.430</text>
<text transform="translate(1742.00 896.20) rotate(-90) scale(1.0 1.025)" style="font-size:40.8px;font-weight:700;" fill="#000" text-anchor="middle">Tb.N (1/mm)</text>
</g>
<g class="panel" id="p-e">
<path d="M178.73 1587.68V1369.40H248.24V1587.68" fill="#e6e6e6" stroke="#231f20" stroke-width="4.1" stroke-linejoin="round"/>
<path d="M248.24 1587.68V1370.63H318.01V1587.68" fill="#45a3d2" stroke="#231f20" stroke-width="4.1" stroke-linejoin="round"/>
<line x1="142.90" y1="1260.12" x2="142.90" y2="1587.68" stroke="#231f20" stroke-width="4.1" stroke-linecap="butt"/>
<line x1="134.35" y1="1587.68" x2="355.73" y2="1587.68" stroke="#231f20" stroke-width="4.1" stroke-linecap="butt"/>
<line x1="134.50" y1="1262.17" x2="142.90" y2="1262.17" stroke="#231f20" stroke-width="4.1" stroke-linecap="butt"/>
<line x1="134.50" y1="1327.00" x2="142.90" y2="1327.00" stroke="#231f20" stroke-width="4.1" stroke-linecap="butt"/>
<line x1="134.50" y1="1392.08" x2="142.90" y2="1392.08" stroke="#231f20" stroke-width="4.1" stroke-linecap="butt"/>
<line x1="134.50" y1="1456.91" x2="142.90" y2="1456.91" stroke="#231f20" stroke-width="4.1" stroke-linecap="butt"/>
<line x1="134.50" y1="1521.75" x2="142.90" y2="1521.75" stroke="#231f20" stroke-width="4.1" stroke-linecap="butt"/>
<text transform="translate(125.93 1274.67) scale(0.815 1.04)" style="font-size:36.8px;font-weight:700;" fill="#000" text-anchor="end">50</text>
<text transform="translate(125.93 1339.50) scale(0.815 1.04)" style="font-size:36.8px;font-weight:700;" fill="#000" text-anchor="end">40</text>
<text transform="translate(125.93 1404.58) scale(0.815 1.04)" style="font-size:36.8px;font-weight:700;" fill="#000" text-anchor="end">30</text>
<text transform="translate(125.93 1469.41) scale(0.815 1.04)" style="font-size:36.8px;font-weight:700;" fill="#000" text-anchor="end">20</text>
<text transform="translate(125.93 1534.25) scale(0.815 1.04)" style="font-size:36.8px;font-weight:700;" fill="#000" text-anchor="end">10</text>
<text transform="translate(125.93 1596.18) scale(0.815 1.04)" style="font-size:36.8px;font-weight:700;" fill="#000" text-anchor="end">0</text>
<line x1="213.73" y1="1346.47" x2="213.73" y2="1388.38" stroke="#231f20" stroke-width="4.1" stroke-linecap="butt"/>
<line x1="196.13" y1="1346.47" x2="231.33" y2="1346.47" stroke="#231f20" stroke-width="4.1" stroke-linecap="butt"/>
<line x1="196.13" y1="1388.38" x2="231.33" y2="1388.38" stroke="#231f20" stroke-width="4.1" stroke-linecap="butt"/>
<line x1="283.00" y1="1346.47" x2="283.00" y2="1391.59" stroke="#231f20" stroke-width="4.1" stroke-linecap="butt"/>
<line x1="265.40" y1="1346.47" x2="300.60" y2="1346.47" stroke="#231f20" stroke-width="4.1" stroke-linecap="butt"/>
<line x1="265.40" y1="1391.59" x2="300.60" y2="1391.59" stroke="#231f20" stroke-width="4.1" stroke-linecap="butt"/>
<g fill="#7d7f82" fill-opacity="0.6" stroke="#6f7174" stroke-opacity="0.35" stroke-width="1">
<ellipse cx="191.5" cy="1333.2" rx="5.9" ry="6.6"/>
<ellipse cx="239.1" cy="1352.6" rx="5.9" ry="6.6"/>
<ellipse cx="206.6" cy="1353.4" rx="5.9" ry="6.6"/>
<ellipse cx="221.1" cy="1359.5" rx="5.9" ry="6.6"/>
<ellipse cx="191.5" cy="1378.5" rx="5.9" ry="6.6"/>
<ellipse cx="236.2" cy="1378.5" rx="5.9" ry="6.6"/>
<ellipse cx="206.6" cy="1392.8" rx="5.9" ry="6.6"/>
<ellipse cx="221.1" cy="1392.8" rx="5.9" ry="6.6"/>
<ellipse cx="283.0" cy="1333.2" rx="5.9" ry="6.6"/>
<ellipse cx="297.8" cy="1346.5" rx="5.9" ry="6.6"/>
<ellipse cx="268.2" cy="1365.2" rx="5.9" ry="6.6"/>
<ellipse cx="282.8" cy="1365.2" rx="5.9" ry="6.6"/>
<ellipse cx="260.8" cy="1371.9" rx="5.9" ry="6.6"/>
<ellipse cx="305.7" cy="1371.9" rx="5.9" ry="6.6"/>
<ellipse cx="275.6" cy="1398.5" rx="5.9" ry="6.6"/>
<ellipse cx="290.9" cy="1398.5" rx="5.9" ry="6.6"/>
</g>
<line x1="212.50" y1="1312.70" x2="277.83" y2="1312.70" stroke="#6d6e71" stroke-width="4.3" stroke-linecap="butt"/>
<text transform="translate(244.42 1304.07) scale(0.82 1.04)" style="font-size:32.2px;font-weight:400;font-style:italic;" fill="#000" text-anchor="middle">p=0.884</text>
<text transform="translate(79.00 1418.70) rotate(-90) scale(1.0 1.025)" style="font-size:40.8px;font-weight:700;" fill="#000" text-anchor="middle">(g)</text>
</g>
<g class="panel" id="p-f1">
<path d="M652.78 1467.80V1300.38H722.05V1467.80" fill="#e6e6e6" stroke="none"/>
<path d="M652.78 1583.60V1491.90H722.05V1583.60" fill="#e6e6e6" stroke="none"/>
<path d="M652.78 1467.80V1300.38H722.05V1467.80" fill="none" stroke="#231f20" stroke-width="4.1" stroke-linejoin="round"/>
<path d="M652.78 1583.60V1491.90M722.05 1491.90V1583.60" fill="none" stroke="#231f20" stroke-width="4.1"/>
<path d="M722.05 1467.80V1334.89H791.57V1467.80" fill="#45a3d2" stroke="none"/>
<path d="M722.05 1583.60V1491.90H791.57V1583.60" fill="#45a3d2" stroke="none"/>
<path d="M722.05 1467.80V1334.89H791.57V1467.80" fill="none" stroke="#231f20" stroke-width="4.1" stroke-linejoin="round"/>
<path d="M722.05 1583.60V1491.90M791.57 1491.90V1583.60" fill="none" stroke="#231f20" stroke-width="4.1"/>
<line x1="616.91" y1="1256.42" x2="616.91" y2="1470.55" stroke="#231f20" stroke-width="4.1" stroke-linecap="butt"/>
<line x1="616.91" y1="1491.35" x2="616.91" y2="1583.60" stroke="#231f20" stroke-width="4.1" stroke-linecap="butt"/>
<line x1="609.14" y1="1583.60" x2="829.78" y2="1583.60" stroke="#231f20" stroke-width="4.1" stroke-linecap="butt"/>
<line x1="608.51" y1="1258.47" x2="616.91" y2="1258.47" stroke="#231f20" stroke-width="4.1" stroke-linecap="butt"/>
<line x1="608.51" y1="1363.14" x2="616.91" y2="1363.14" stroke="#231f20" stroke-width="4.1" stroke-linecap="butt"/>
<line x1="610.91" y1="1468.50" x2="622.91" y2="1468.50" stroke="#231f20" stroke-width="4.1" stroke-linecap="butt"/>
<line x1="610.91" y1="1493.40" x2="622.91" y2="1493.40" stroke="#231f20" stroke-width="4.1" stroke-linecap="butt"/>
<text transform="translate(603.26 1270.97) scale(0.815 1.04)" style="font-size:36.8px;font-weight:700;" fill="#000" text-anchor="end">0.4</text>
<text transform="translate(604.18 1375.64) scale(0.815 1.04)" style="font-size:36.8px;font-weight:700;" fill="#000" text-anchor="end">0.3</text>
<text transform="translate(604.30 1476.90) scale(0.815 1.04)" style="font-size:36.8px;font-weight:700;" fill="#000" text-anchor="end">0.2</text>
<text transform="translate(603.93 1513.50) scale(0.815 1.04)" style="font-size:36.8px;font-weight:700;" fill="#000" text-anchor="end">0.1</text>
<text transform="translate(604.33 1592.10) scale(0.815 1.04)" style="font-size:36.8px;font-weight:700;" fill="#000" text-anchor="end">0</text>
<line x1="687.50" y1="1279.91" x2="687.50" y2="1318.86" stroke="#231f20" stroke-width="4.1" stroke-linecap="butt"/>
<line x1="669.90" y1="1279.91" x2="705.10" y2="1279.91" stroke="#231f20" stroke-width="4.1" stroke-linecap="butt"/>
<line x1="669.90" y1="1318.86" x2="705.10" y2="1318.86" stroke="#231f20" stroke-width="4.1" stroke-linecap="butt"/>
<line x1="757.05" y1="1309.50" x2="757.05" y2="1357.81" stroke="#231f20" stroke-width="4.1" stroke-linecap="butt"/>
<line x1="739.45" y1="1309.50" x2="774.65" y2="1309.50" stroke="#231f20" stroke-width="4.1" stroke-linecap="butt"/>
<line x1="739.45" y1="1357.81" x2="774.65" y2="1357.81" stroke="#231f20" stroke-width="4.1" stroke-linecap="butt"/>
<g fill="#7d7f82" fill-opacity="0.6" stroke="#6f7174" stroke-opacity="0.35" stroke-width="1">
<ellipse cx="711.9" cy="1275.0" rx="5.9" ry="6.6"/>
<ellipse cx="659.2" cy="1281.4" rx="5.9" ry="6.6"/>
<ellipse cx="673.2" cy="1289.8" rx="5.9" ry="6.6"/>
<ellipse cx="701.6" cy="1288.8" rx="5.9" ry="6.6"/>
<ellipse cx="687.3" cy="1302.1" rx="5.9" ry="6.6"/>
<ellipse cx="672.5" cy="1307.8" rx="5.9" ry="6.6"/>
<ellipse cx="702.8" cy="1313.4" rx="5.9" ry="6.6"/>
<ellipse cx="687.5" cy="1333.7" rx="5.9" ry="6.6"/>
<ellipse cx="756.6" cy="1303.3" rx="5.9" ry="6.6"/>
<ellipse cx="734.9" cy="1308.5" rx="5.9" ry="6.6"/>
<ellipse cx="779.2" cy="1319.4" rx="5.9" ry="6.6"/>
<ellipse cx="749.2" cy="1325.5" rx="5.9" ry="6.6"/>
<ellipse cx="764.4" cy="1334.9" rx="5.9" ry="6.6"/>
<ellipse cx="741.8" cy="1345.5" rx="5.9" ry="6.6"/>
<ellipse cx="757.1" cy="1366.4" rx="5.9" ry="6.6"/>
<ellipse cx="771.8" cy="1366.4" rx="5.9" ry="6.6"/>
</g>
<line x1="689.26" y1="1253.54" x2="754.59" y2="1253.54" stroke="#6d6e71" stroke-width="4.3" stroke-linecap="butt"/>
<text transform="translate(723.16 1243.18) scale(1.0 1.04)" style="font-size:32.2px;font-weight:700;font-style:italic;" fill="#000" text-anchor="middle">*p=0.007</text>
<text transform="translate(533.20 1417.50) rotate(-90) scale(1.0 1.025)" style="font-size:40.8px;font-weight:700;" fill="#000" text-anchor="middle">BV/TV</text>
</g>
<g class="panel" id="p-f2">
<path d="M1061.19 1467.63V1315.66H1130.22V1467.63" fill="#e6e6e6" stroke="none"/>
<path d="M1061.19 1584.66V1491.40H1130.22V1584.66" fill="#e6e6e6" stroke="none"/>
<path d="M1061.19 1467.63V1315.66H1130.22V1467.63" fill="none" stroke="#231f20" stroke-width="4.1" stroke-linejoin="round"/>
<path d="M1061.19 1584.66V1491.40M1130.22 1491.40V1584.66" fill="none" stroke="#231f20" stroke-width="4.1"/>
<path d="M1130.22 1467.63V1339.33H1199.73V1467.63" fill="#45a3d2" stroke="none"/>
<path d="M1130.22 1584.66V1491.40H1199.73V1584.66" fill="#45a3d2" stroke="none"/>
<path d="M1130.22 1467.63V1339.33H1199.73V1467.63" fill="none" stroke="#231f20" stroke-width="4.1" stroke-linejoin="round"/>
<path d="M1130.22 1584.66V1491.40M1199.73 1491.40V1584.66" fill="none" stroke="#231f20" stroke-width="4.1"/>
<line x1="1025.08" y1="1258.25" x2="1025.08" y2="1471.78" stroke="#231f20" stroke-width="4.1" stroke-linecap="butt"/>
<line x1="1025.08" y1="1492.85" x2="1025.08" y2="1584.66" stroke="#231f20" stroke-width="4.1" stroke-linecap="butt"/>
<line x1="1017.31" y1="1584.66" x2="1238.19" y2="1584.66" stroke="#231f20" stroke-width="4.1" stroke-linecap="butt"/>
<line x1="1016.68" y1="1260.30" x2="1025.08" y2="1260.30" stroke="#231f20" stroke-width="4.1" stroke-linecap="butt"/>
<line x1="1016.68" y1="1330.46" x2="1025.08" y2="1330.46" stroke="#231f20" stroke-width="4.1" stroke-linecap="butt"/>
<line x1="1016.68" y1="1400.22" x2="1025.08" y2="1400.22" stroke="#231f20" stroke-width="4.1" stroke-linecap="butt"/>
<line x1="1019.08" y1="1469.73" x2="1031.08" y2="1469.73" stroke="#231f20" stroke-width="4.1" stroke-linecap="butt"/>
<line x1="1019.08" y1="1494.90" x2="1031.08" y2="1494.90" stroke="#231f20" stroke-width="4.1" stroke-linecap="butt"/>
<text transform="translate(1012.42 1272.80) scale(0.815 1.04)" style="font-size:36.8px;font-weight:700;" fill="#000" text-anchor="end">0.07</text>
<text transform="translate(1012.18 1342.96) scale(0.815 1.04)" style="font-size:36.8px;font-weight:700;" fill="#000" text-anchor="end">0.06</text>
<text transform="translate(1011.93 1412.72) scale(0.815 1.04)" style="font-size:36.8px;font-weight:700;" fill="#000" text-anchor="end">0.05</text>
<text transform="translate(1011.26 1482.23) scale(0.815 1.04)" style="font-size:36.8px;font-weight:700;" fill="#000" text-anchor="end">0.04</text>
<text transform="translate(1012.30 1515.30) scale(0.815 1.04)" style="font-size:36.8px;font-weight:700;" fill="#000" text-anchor="end">0.02</text>
<text transform="translate(1012.33 1593.16) scale(0.815 1.04)" style="font-size:36.8px;font-weight:700;" fill="#000" text-anchor="end">0</text>
<line x1="1096.20" y1="1292.24" x2="1096.20" y2="1336.12" stroke="#231f20" stroke-width="4.1" stroke-linecap="butt"/>
<line x1="1078.60" y1="1292.24" x2="1113.80" y2="1292.24" stroke="#231f20" stroke-width="4.1" stroke-linecap="butt"/>
<line x1="1078.60" y1="1336.12" x2="1113.80" y2="1336.12" stroke="#231f20" stroke-width="4.1" stroke-linecap="butt"/>
<line x1="1165.47" y1="1320.10" x2="1165.47" y2="1355.10" stroke="#231f20" stroke-width="4.1" stroke-linecap="butt"/>
<line x1="1147.87" y1="1320.10" x2="1183.07" y2="1320.10" stroke="#231f20" stroke-width="4.1" stroke-linecap="butt"/>
<line x1="1147.87" y1="1355.10" x2="1183.07" y2="1355.10" stroke="#231f20" stroke-width="4.1" stroke-linecap="butt"/>
<g fill="#7d7f82" fill-opacity="0.6" stroke="#6f7174" stroke-opacity="0.35" stroke-width="1">
<ellipse cx="1073.5" cy="1283.1" rx="5.9" ry="6.6"/>
<ellipse cx="1125.8" cy="1288.8" rx="5.9" ry="6.6"/>
<ellipse cx="1087.8" cy="1304.1" rx="5.9" ry="6.6"/>
<ellipse cx="1103.6" cy="1307.8" rx="5.9" ry="6.6"/>
<ellipse cx="1118.4" cy="1317.6" rx="5.9" ry="6.6"/>
<ellipse cx="1073.5" cy="1332.9" rx="5.9" ry="6.6"/>
<ellipse cx="1103.6" cy="1338.6" rx="5.9" ry="6.6"/>
<ellipse cx="1088.3" cy="1341.8" rx="5.9" ry="6.6"/>
<ellipse cx="1150.7" cy="1314.7" rx="5.9" ry="6.6"/>
<ellipse cx="1180.3" cy="1313.9" rx="5.9" ry="6.6"/>
<ellipse cx="1165.2" cy="1331.2" rx="5.9" ry="6.6"/>
<ellipse cx="1141.3" cy="1334.9" rx="5.9" ry="6.6"/>
<ellipse cx="1193.6" cy="1338.6" rx="5.9" ry="6.6"/>
<ellipse cx="1150.7" cy="1349.7" rx="5.9" ry="6.6"/>
<ellipse cx="1179.5" cy="1352.1" rx="5.9" ry="6.6"/>
<ellipse cx="1165.2" cy="1364.0" rx="5.9" ry="6.6"/>
</g>
<line x1="1092.01" y1="1261.67" x2="1156.84" y2="1261.67" stroke="#6d6e71" stroke-width="4.3" stroke-linecap="butt"/>
<text transform="translate(1120.60 1251.07) scale(1.0 1.04)" style="font-size:32.2px;font-weight:700;font-style:italic;" fill="#000" text-anchor="middle">*p=0.035</text>
<text transform="translate(936.20 1419.00) rotate(-90) scale(1.0 1.025)" style="font-size:40.8px;font-weight:700;" fill="#000" text-anchor="middle">Tb.Th (mm)</text>
</g>
<g class="panel" id="p-f3">
<path d="M1464.89 1467.97V1359.05H1533.91V1467.97" fill="#e6e6e6" stroke="none"/>
<path d="M1464.89 1584.66V1491.40H1533.91V1584.66" fill="#e6e6e6" stroke="none"/>
<path d="M1464.89 1467.97V1359.05H1533.91V1467.97" fill="none" stroke="#231f20" stroke-width="4.1" stroke-linejoin="round"/>
<path d="M1464.89 1584.66V1491.40M1533.91 1491.40V1584.66" fill="none" stroke="#231f20" stroke-width="4.1"/>
<path d="M1533.91 1467.97V1340.31H1603.68V1467.97" fill="#45a3d2" stroke="none"/>
<path d="M1533.91 1584.66V1491.40H1603.68V1584.66" fill="#45a3d2" stroke="none"/>
<path d="M1533.91 1467.97V1340.31H1603.68V1467.97" fill="none" stroke="#231f20" stroke-width="4.1" stroke-linejoin="round"/>
<path d="M1533.91 1584.66V1491.40M1603.68 1491.40V1584.66" fill="none" stroke="#231f20" stroke-width="4.1"/>
<line x1="1428.77" y1="1258.14" x2="1428.77" y2="1472.52" stroke="#231f20" stroke-width="4.1" stroke-linecap="butt"/>
<line x1="1428.77" y1="1492.85" x2="1428.77" y2="1584.66" stroke="#231f20" stroke-width="4.1" stroke-linecap="butt"/>
<line x1="1420.52" y1="1584.66" x2="1641.89" y2="1584.66" stroke="#231f20" stroke-width="4.1" stroke-linecap="butt"/>
<line x1="1420.37" y1="1260.19" x2="1428.77" y2="1260.19" stroke="#231f20" stroke-width="4.1" stroke-linecap="butt"/>
<line x1="1420.37" y1="1365.70" x2="1428.77" y2="1365.70" stroke="#231f20" stroke-width="4.1" stroke-linecap="butt"/>
<line x1="1422.77" y1="1470.47" x2="1434.77" y2="1470.47" stroke="#231f20" stroke-width="4.1" stroke-linecap="butt"/>
<line x1="1422.77" y1="1494.90" x2="1434.77" y2="1494.90" stroke="#231f20" stroke-width="4.1" stroke-linecap="butt"/>
<text transform="translate(1415.93 1272.69) scale(0.815 1.04)" style="font-size:36.8px;font-weight:700;" fill="#000" text-anchor="end">0.20</text>
<text transform="translate(1415.53 1378.20) scale(0.815 1.04)" style="font-size:36.8px;font-weight:700;" fill="#000" text-anchor="end">0.15</text>
<text transform="translate(1415.93 1479.47) scale(0.815 1.04)" style="font-size:36.8px;font-weight:700;" fill="#000" text-anchor="end">0.10</text>
<text transform="translate(1415.53 1515.70) scale(0.815 1.04)" style="font-size:36.8px;font-weight:700;" fill="#000" text-anchor="end">0.05</text>
<text transform="translate(1415.93 1593.16) scale(0.815 1.04)" style="font-size:36.8px;font-weight:700;" fill="#000" text-anchor="end">0.00</text>
<line x1="1499.40" y1="1340.31" x2="1499.40" y2="1374.33" stroke="#231f20" stroke-width="4.1" stroke-linecap="butt"/>
<line x1="1481.80" y1="1340.31" x2="1517.00" y2="1340.31" stroke="#231f20" stroke-width="4.1" stroke-linecap="butt"/>
<line x1="1481.80" y1="1374.33" x2="1517.00" y2="1374.33" stroke="#231f20" stroke-width="4.1" stroke-linecap="butt"/>
<line x1="1568.92" y1="1311.96" x2="1568.92" y2="1364.47" stroke="#231f20" stroke-width="4.1" stroke-linecap="butt"/>
<line x1="1551.32" y1="1311.96" x2="1586.52" y2="1311.96" stroke="#231f20" stroke-width="4.1" stroke-linecap="butt"/>
<line x1="1551.32" y1="1364.47" x2="1586.52" y2="1364.47" stroke="#231f20" stroke-width="4.1" stroke-linecap="butt"/>
<g fill="#7d7f82" fill-opacity="0.6" stroke="#6f7174" stroke-opacity="0.35" stroke-width="1">
<ellipse cx="1484.6" cy="1335.6" rx="5.9" ry="6.6"/>
<ellipse cx="1514.2" cy="1335.6" rx="5.9" ry="6.6"/>
<ellipse cx="1499.4" cy="1347.2" rx="5.9" ry="6.6"/>
<ellipse cx="1476.0" cy="1357.1" rx="5.9" ry="6.6"/>
<ellipse cx="1485.3" cy="1361.5" rx="5.9" ry="6.6"/>
<ellipse cx="1524.1" cy="1360.8" rx="5.9" ry="6.6"/>
<ellipse cx="1499.4" cy="1381.7" rx="5.9" ry="6.6"/>
<ellipse cx="1513.7" cy="1379.8" rx="5.9" ry="6.6"/>
<ellipse cx="1568.9" cy="1287.6" rx="5.9" ry="6.6"/>
<ellipse cx="1596.8" cy="1324.5" rx="5.9" ry="6.6"/>
<ellipse cx="1545.0" cy="1334.9" rx="5.9" ry="6.6"/>
<ellipse cx="1583.2" cy="1337.8" rx="5.9" ry="6.6"/>
<ellipse cx="1554.4" cy="1340.6" rx="5.9" ry="6.6"/>
<ellipse cx="1568.4" cy="1346.7" rx="5.9" ry="6.6"/>
<ellipse cx="1576.6" cy="1353.4" rx="5.9" ry="6.6"/>
<ellipse cx="1561.5" cy="1380.0" rx="5.9" ry="6.6"/>
</g>
<line x1="1501.13" y1="1260.19" x2="1566.45" y2="1260.19" stroke="#6d6e71" stroke-width="4.3" stroke-linecap="butt"/>
<text transform="translate(1533.91 1249.35) scale(0.82 1.04)" style="font-size:32.2px;font-weight:400;font-style:italic;" fill="#000" text-anchor="middle">p=0.104</text>
<text transform="translate(1338.60 1419.60) rotate(-90) scale(1.0 1.025)" style="font-size:40.8px;font-weight:700;" fill="#000" text-anchor="middle">Tb.Sp (mm)</text>
</g>
<g class="panel" id="p-f4">
<path d="M1829.50 1468.05V1344.01H1899.01V1468.05" fill="#e6e6e6" stroke="none"/>
<path d="M1829.50 1583.68V1491.95H1899.01V1583.68" fill="#e6e6e6" stroke="none"/>
<path d="M1829.50 1468.05V1344.01H1899.01V1468.05" fill="none" stroke="#231f20" stroke-width="4.1" stroke-linejoin="round"/>
<path d="M1829.50 1583.68V1491.95M1899.01 1491.95V1583.68" fill="none" stroke="#231f20" stroke-width="4.1"/>
<path d="M1899.01 1468.05V1359.54H1968.29V1468.05" fill="#45a3d2" stroke="none"/>
<path d="M1899.01 1583.68V1491.95H1968.29V1583.68" fill="#45a3d2" stroke="none"/>
<path d="M1899.01 1468.05V1359.54H1968.29V1468.05" fill="none" stroke="#231f20" stroke-width="4.1" stroke-linejoin="round"/>
<path d="M1899.01 1583.68V1491.95M1968.29 1491.95V1583.68" fill="none" stroke="#231f20" stroke-width="4.1"/>
<line x1="1793.75" y1="1256.72" x2="1793.75" y2="1470.80" stroke="#231f20" stroke-width="4.1" stroke-linecap="butt"/>
<line x1="1793.75" y1="1491.40" x2="1793.75" y2="1583.68" stroke="#231f20" stroke-width="4.1" stroke-linecap="butt"/>
<line x1="1785.12" y1="1583.68" x2="2006.00" y2="1583.68" stroke="#231f20" stroke-width="4.1" stroke-linecap="butt"/>
<line x1="1785.35" y1="1258.77" x2="1793.75" y2="1258.77" stroke="#231f20" stroke-width="4.1" stroke-linecap="butt"/>
<line x1="1785.35" y1="1328.53" x2="1793.75" y2="1328.53" stroke="#231f20" stroke-width="4.1" stroke-linecap="butt"/>
<line x1="1785.35" y1="1398.49" x2="1793.75" y2="1398.49" stroke="#231f20" stroke-width="4.1" stroke-linecap="butt"/>
<line x1="1787.75" y1="1468.75" x2="1799.75" y2="1468.75" stroke="#231f20" stroke-width="4.1" stroke-linecap="butt"/>
<line x1="1787.75" y1="1493.45" x2="1799.75" y2="1493.45" stroke="#231f20" stroke-width="4.1" stroke-linecap="butt"/>
<line x1="1785.35" y1="1538.27" x2="1793.75" y2="1538.27" stroke="#231f20" stroke-width="4.1" stroke-linecap="butt"/>
<text transform="translate(1773.42 1271.27) scale(0.815 1.04)" style="font-size:36.8px;font-weight:700;" fill="#000" text-anchor="end">7</text>
<text transform="translate(1773.18 1341.03) scale(0.815 1.04)" style="font-size:36.8px;font-weight:700;" fill="#000" text-anchor="end">6</text>
<text transform="translate(1772.93 1410.99) scale(0.815 1.04)" style="font-size:36.8px;font-weight:700;" fill="#000" text-anchor="end">5</text>
<text transform="translate(1772.26 1477.15) scale(0.815 1.04)" style="font-size:36.8px;font-weight:700;" fill="#000" text-anchor="end">4</text>
<text transform="translate(1773.30 1509.35) scale(0.815 1.04)" style="font-size:36.8px;font-weight:700;" fill="#000" text-anchor="end">2</text>
<text transform="translate(1772.93 1549.47) scale(0.815 1.04)" style="font-size:36.8px;font-weight:700;" fill="#000" text-anchor="end">1</text>
<text transform="translate(1773.33 1592.18) scale(0.815 1.04)" style="font-size:36.8px;font-weight:700;" fill="#000" text-anchor="end">0</text>
<line x1="1864.50" y1="1328.23" x2="1864.50" y2="1355.84" stroke="#231f20" stroke-width="4.1" stroke-linecap="butt"/>
<line x1="1846.90" y1="1328.23" x2="1882.10" y2="1328.23" stroke="#231f20" stroke-width="4.1" stroke-linecap="butt"/>
<line x1="1846.90" y1="1355.84" x2="1882.10" y2="1355.84" stroke="#231f20" stroke-width="4.1" stroke-linecap="butt"/>
<line x1="1933.77" y1="1333.66" x2="1933.77" y2="1381.73" stroke="#231f20" stroke-width="4.1" stroke-linecap="butt"/>
<line x1="1916.17" y1="1333.66" x2="1951.37" y2="1333.66" stroke="#231f20" stroke-width="4.1" stroke-linecap="butt"/>
<line x1="1916.17" y1="1381.73" x2="1951.37" y2="1381.73" stroke="#231f20" stroke-width="4.1" stroke-linecap="butt"/>
<g fill="#7d7f82" fill-opacity="0.6" stroke="#6f7174" stroke-opacity="0.35" stroke-width="1">
<ellipse cx="1857.1" cy="1321.3" rx="5.9" ry="6.6"/>
<ellipse cx="1871.9" cy="1328.0" rx="5.9" ry="6.6"/>
<ellipse cx="1886.7" cy="1330.5" rx="5.9" ry="6.6"/>
<ellipse cx="1843.1" cy="1345.5" rx="5.9" ry="6.6"/>
<ellipse cx="1882.0" cy="1346.0" rx="5.9" ry="6.6"/>
<ellipse cx="1850.9" cy="1353.4" rx="5.9" ry="6.6"/>
<ellipse cx="1870.2" cy="1354.1" rx="5.9" ry="6.6"/>
<ellipse cx="1858.6" cy="1359.5" rx="5.9" ry="6.6"/>
<ellipse cx="1933.8" cy="1312.7" rx="5.9" ry="6.6"/>
<ellipse cx="1957.7" cy="1348.4" rx="5.9" ry="6.6"/>
<ellipse cx="1909.6" cy="1350.2" rx="5.9" ry="6.6"/>
<ellipse cx="1943.6" cy="1354.1" rx="5.9" ry="6.6"/>
<ellipse cx="1919.5" cy="1363.2" rx="5.9" ry="6.6"/>
<ellipse cx="1933.8" cy="1364.5" rx="5.9" ry="6.6"/>
<ellipse cx="1941.2" cy="1371.1" rx="5.9" ry="6.6"/>
<ellipse cx="1926.4" cy="1398.2" rx="5.9" ry="6.6"/>
</g>
<line x1="1865.98" y1="1289.28" x2="1931.31" y2="1289.28" stroke="#6d6e71" stroke-width="4.3" stroke-linecap="butt"/>
<text transform="translate(1899.14 1278.19) scale(0.82 1.04)" style="font-size:32.2px;font-weight:400;font-style:italic;" fill="#000" text-anchor="middle">p=0.142</text>
<text transform="translate(1742.00 1418.60) rotate(-90) scale(1.0 1.025)" style="font-size:40.8px;font-weight:700;" fill="#000" text-anchor="middle">Tb.N (1/mm)</text>
</g>
<g class="panel" id="p-g">
<path d="M178.73 2002.50V1838.96H248.24V2002.50" fill="#e6e6e6" stroke="none"/>
<path d="M178.73 2116.60V2026.36H248.24V2116.60" fill="#e6e6e6" stroke="none"/>
<path d="M178.73 2002.50V1838.96H248.24V2002.50" fill="none" stroke="#231f20" stroke-width="4.1" stroke-linejoin="round"/>
<path d="M178.73 2116.60V2026.36M248.24 2026.36V2116.60" fill="none" stroke="#231f20" stroke-width="4.1"/>
<path d="M248.24 2002.50V1868.05H318.01V2002.50" fill="#45a3d2" stroke="none"/>
<path d="M248.24 2116.60V2026.36H318.01V2116.60" fill="#45a3d2" stroke="none"/>
<path d="M248.24 2002.50V1868.05H318.01V2002.50" fill="none" stroke="#231f20" stroke-width="4.1" stroke-linejoin="round"/>
<path d="M248.24 2116.60V2026.36M318.01 2026.36V2116.60" fill="none" stroke="#231f20" stroke-width="4.1"/>
<line x1="142.90" y1="1790.18" x2="142.90" y2="2003.95" stroke="#231f20" stroke-width="4.1" stroke-linecap="butt"/>
<line x1="142.90" y1="2025.01" x2="142.90" y2="2116.60" stroke="#231f20" stroke-width="4.1" stroke-linecap="butt"/>
<line x1="134.35" y1="2116.60" x2="356.22" y2="2116.60" stroke="#231f20" stroke-width="4.1" stroke-linecap="butt"/>
<line x1="134.50" y1="1792.23" x2="142.90" y2="1792.23" stroke="#231f20" stroke-width="4.1" stroke-linecap="butt"/>
<line x1="134.50" y1="1896.89" x2="142.90" y2="1896.89" stroke="#231f20" stroke-width="4.1" stroke-linecap="butt"/>
<line x1="136.90" y1="2001.90" x2="148.90" y2="2001.90" stroke="#231f20" stroke-width="4.1" stroke-linecap="butt"/>
<line x1="136.90" y1="2027.06" x2="148.90" y2="2027.06" stroke="#231f20" stroke-width="4.1" stroke-linecap="butt"/>
<text transform="translate(128.86 1804.73) scale(0.815 1.04)" style="font-size:36.8px;font-weight:700;" fill="#000" text-anchor="end">0.24</text>
<text transform="translate(129.93 1909.39) scale(0.815 1.04)" style="font-size:36.8px;font-weight:700;" fill="#000" text-anchor="end">0.20</text>
<text transform="translate(129.78 2009.80) scale(0.815 1.04)" style="font-size:36.8px;font-weight:700;" fill="#000" text-anchor="end">0.16</text>
<text transform="translate(128.86 2044.56) scale(0.815 1.04)" style="font-size:36.8px;font-weight:700;" fill="#000" text-anchor="end">0.04</text>
<text transform="translate(129.93 2125.10) scale(0.815 1.04)" style="font-size:36.8px;font-weight:700;" fill="#000" text-anchor="end">0</text>
<line x1="213.73" y1="1819.49" x2="213.73" y2="1854.99" stroke="#231f20" stroke-width="4.1" stroke-linecap="butt"/>
<line x1="196.13" y1="1819.49" x2="231.33" y2="1819.49" stroke="#231f20" stroke-width="4.1" stroke-linecap="butt"/>
<line x1="196.13" y1="1854.99" x2="231.33" y2="1854.99" stroke="#231f20" stroke-width="4.1" stroke-linecap="butt"/>
<line x1="283.00" y1="1854.00" x2="283.00" y2="1879.14" stroke="#231f20" stroke-width="4.1" stroke-linecap="butt"/>
<line x1="265.40" y1="1854.00" x2="300.60" y2="1854.00" stroke="#231f20" stroke-width="4.1" stroke-linecap="butt"/>
<line x1="265.40" y1="1879.14" x2="300.60" y2="1879.14" stroke="#231f20" stroke-width="4.1" stroke-linecap="butt"/>
<g fill="#7d7f82" fill-opacity="0.6" stroke="#6f7174" stroke-opacity="0.35" stroke-width="1">
<ellipse cx="191.5" cy="1806.9" rx="5.9" ry="6.6"/>
<ellipse cx="205.8" cy="1826.6" rx="5.9" ry="6.6"/>
<ellipse cx="239.6" cy="1825.7" rx="5.9" ry="6.6"/>
<ellipse cx="224.3" cy="1830.6" rx="5.9" ry="6.6"/>
<ellipse cx="232.2" cy="1844.6" rx="5.9" ry="6.6"/>
<ellipse cx="191.5" cy="1846.4" rx="5.9" ry="6.6"/>
<ellipse cx="221.4" cy="1854.5" rx="5.9" ry="6.6"/>
<ellipse cx="206.3" cy="1863.1" rx="5.9" ry="6.6"/>
<ellipse cx="276.1" cy="1852.0" rx="5.9" ry="6.6"/>
<ellipse cx="291.4" cy="1853.8" rx="5.9" ry="6.6"/>
<ellipse cx="258.1" cy="1859.9" rx="5.9" ry="6.6"/>
<ellipse cx="305.2" cy="1860.2" rx="5.9" ry="6.6"/>
<ellipse cx="297.1" cy="1866.3" rx="5.9" ry="6.6"/>
<ellipse cx="265.0" cy="1875.4" rx="5.9" ry="6.6"/>
<ellipse cx="289.7" cy="1878.7" rx="5.9" ry="6.6"/>
<ellipse cx="277.3" cy="1886.5" rx="5.9" ry="6.6"/>
</g>
<line x1="210.77" y1="1794.84" x2="276.59" y2="1794.84" stroke="#6d6e71" stroke-width="4.3" stroke-linecap="butt"/>
<text transform="translate(243.68 1784.24) scale(1.0 1.04)" style="font-size:32.2px;font-weight:700;font-style:italic;" fill="#000" text-anchor="middle">*p=0.002</text>
<text transform="translate(57.20 1943.40) rotate(-90) scale(1.0 1.025)" style="font-size:40.8px;font-weight:700;" fill="#000" text-anchor="middle">Ct.Th (mm)</text>
</g>
<g class="panel" id="p-h1">
<path d="M654.26 2002.44V1870.52H723.28V2002.44" fill="#e6e6e6" stroke="none"/>
<path d="M654.26 2114.58V2026.00H723.28V2114.58" fill="#e6e6e6" stroke="none"/>
<path d="M654.26 2002.44V1870.52H723.28V2002.44" fill="none" stroke="#231f20" stroke-width="4.1" stroke-linejoin="round"/>
<path d="M654.26 2114.58V2026.00M723.28 2026.00V2114.58" fill="none" stroke="#231f20" stroke-width="4.1"/>
<path d="M723.28 2002.44V1888.27H792.31V2002.44" fill="#45a3d2" stroke="none"/>
<path d="M723.28 2114.58V2026.00H792.31V2114.58" fill="#45a3d2" stroke="none"/>
<path d="M723.28 2002.44V1888.27H792.31V2002.44" fill="none" stroke="#231f20" stroke-width="4.1" stroke-linejoin="round"/>
<path d="M723.28 2114.58V2026.00M792.31 2026.00V2114.58" fill="none" stroke="#231f20" stroke-width="4.1"/>
<line x1="618.02" y1="1787.61" x2="618.02" y2="2001.99" stroke="#231f20" stroke-width="4.1" stroke-linecap="butt"/>
<line x1="618.02" y1="2022.45" x2="618.02" y2="2114.58" stroke="#231f20" stroke-width="4.1" stroke-linecap="butt"/>
<line x1="610.38" y1="2114.58" x2="831.50" y2="2114.58" stroke="#231f20" stroke-width="4.1" stroke-linecap="butt"/>
<line x1="609.62" y1="1789.66" x2="618.02" y2="1789.66" stroke="#231f20" stroke-width="4.1" stroke-linecap="butt"/>
<line x1="609.62" y1="1859.42" x2="618.02" y2="1859.42" stroke="#231f20" stroke-width="4.1" stroke-linecap="butt"/>
<line x1="609.62" y1="1929.68" x2="618.02" y2="1929.68" stroke="#231f20" stroke-width="4.1" stroke-linecap="butt"/>
<line x1="612.02" y1="1999.94" x2="624.02" y2="1999.94" stroke="#231f20" stroke-width="4.1" stroke-linecap="butt"/>
<line x1="612.02" y1="2024.50" x2="624.02" y2="2024.50" stroke="#231f20" stroke-width="4.1" stroke-linecap="butt"/>
<text transform="translate(604.93 1802.16) scale(0.815 1.04)" style="font-size:36.8px;font-weight:700;" fill="#000" text-anchor="end">0.20</text>
<text transform="translate(604.78 1871.92) scale(0.815 1.04)" style="font-size:36.8px;font-weight:700;" fill="#000" text-anchor="end">0.16</text>
<text transform="translate(604.90 1942.18) scale(0.815 1.04)" style="font-size:36.8px;font-weight:700;" fill="#000" text-anchor="end">0.12</text>
<text transform="translate(604.62 2008.44) scale(0.815 1.04)" style="font-size:36.8px;font-weight:700;" fill="#000" text-anchor="end">0.08</text>
<text transform="translate(603.86 2040.70) scale(0.815 1.04)" style="font-size:36.8px;font-weight:700;" fill="#000" text-anchor="end">0.04</text>
<text transform="translate(604.93 2122.78) scale(0.815 1.04)" style="font-size:36.8px;font-weight:700;" fill="#000" text-anchor="end">0.00</text>
<line x1="688.77" y1="1850.80" x2="688.77" y2="1886.05" stroke="#231f20" stroke-width="4.1" stroke-linecap="butt"/>
<line x1="671.17" y1="1850.80" x2="706.37" y2="1850.80" stroke="#231f20" stroke-width="4.1" stroke-linecap="butt"/>
<line x1="671.17" y1="1886.05" x2="706.37" y2="1886.05" stroke="#231f20" stroke-width="4.1" stroke-linecap="butt"/>
<line x1="758.29" y1="1843.89" x2="758.29" y2="1928.45" stroke="#231f20" stroke-width="4.1" stroke-linecap="butt"/>
<line x1="740.69" y1="1843.89" x2="775.89" y2="1843.89" stroke="#231f20" stroke-width="4.1" stroke-linecap="butt"/>
<line x1="740.69" y1="1928.45" x2="775.89" y2="1928.45" stroke="#231f20" stroke-width="4.1" stroke-linecap="butt"/>
<g fill="#7d7f82" fill-opacity="0.6" stroke="#6f7174" stroke-opacity="0.35" stroke-width="1">
<ellipse cx="666.6" cy="1845.4" rx="5.9" ry="6.6"/>
<ellipse cx="714.4" cy="1854.0" rx="5.9" ry="6.6"/>
<ellipse cx="681.1" cy="1858.2" rx="5.9" ry="6.6"/>
<ellipse cx="699.6" cy="1858.7" rx="5.9" ry="6.6"/>
<ellipse cx="707.0" cy="1870.0" rx="5.9" ry="6.6"/>
<ellipse cx="666.6" cy="1884.1" rx="5.9" ry="6.6"/>
<ellipse cx="696.2" cy="1887.3" rx="5.9" ry="6.6"/>
<ellipse cx="681.4" cy="1893.2" rx="5.9" ry="6.6"/>
<ellipse cx="765.7" cy="1812.1" rx="5.9" ry="6.6"/>
<ellipse cx="750.9" cy="1840.2" rx="5.9" ry="6.6"/>
<ellipse cx="750.9" cy="1871.3" rx="5.9" ry="6.6"/>
<ellipse cx="765.7" cy="1885.3" rx="5.9" ry="6.6"/>
<ellipse cx="736.1" cy="1911.9" rx="5.9" ry="6.6"/>
<ellipse cx="780.5" cy="1911.9" rx="5.9" ry="6.6"/>
<ellipse cx="765.2" cy="1919.3" rx="5.9" ry="6.6"/>
<ellipse cx="750.9" cy="1935.8" rx="5.9" ry="6.6"/>
</g>
<line x1="690.00" y1="1787.44" x2="755.82" y2="1787.44" stroke="#6d6e71" stroke-width="4.3" stroke-linecap="butt"/>
<text transform="translate(718.23 1773.14) scale(0.82 1.04)" style="font-size:32.2px;font-weight:400;font-style:italic;" fill="#000" text-anchor="middle">p=0.3098</text>
<text transform="translate(529.20 1929.30) rotate(-90) scale(1.0 1.025)" style="font-size:40.8px;font-weight:700;" fill="#000" text-anchor="middle">BV/TV</text>
</g>
<g class="panel" id="p-h2">
<path d="M1063.16 2117.63V1896.40H1132.68V2117.63" fill="#e6e6e6" stroke="#231f20" stroke-width="4.1" stroke-linejoin="round"/>
<path d="M1132.68 2117.63V1907.49H1201.71V2117.63" fill="#45a3d2" stroke="#231f20" stroke-width="4.1" stroke-linejoin="round"/>
<line x1="1027.05" y1="1791.31" x2="1027.05" y2="2117.63" stroke="#231f20" stroke-width="4.1" stroke-linecap="butt"/>
<line x1="1019.28" y1="2117.63" x2="1240.66" y2="2117.63" stroke="#231f20" stroke-width="4.1" stroke-linecap="butt"/>
<line x1="1018.65" y1="1793.36" x2="1027.05" y2="1793.36" stroke="#231f20" stroke-width="4.1" stroke-linecap="butt"/>
<line x1="1018.65" y1="1874.12" x2="1027.05" y2="1874.12" stroke="#231f20" stroke-width="4.1" stroke-linecap="butt"/>
<line x1="1018.65" y1="1955.23" x2="1027.05" y2="1955.23" stroke="#231f20" stroke-width="4.1" stroke-linecap="butt"/>
<line x1="1018.65" y1="2036.48" x2="1027.05" y2="2036.48" stroke="#231f20" stroke-width="4.1" stroke-linecap="butt"/>
<text transform="translate(1011.82 1805.86) scale(0.815 1.04)" style="font-size:36.8px;font-weight:700;" fill="#000" text-anchor="end">0.08</text>
<text transform="translate(1011.98 1886.62) scale(0.815 1.04)" style="font-size:36.8px;font-weight:700;" fill="#000" text-anchor="end">0.06</text>
<text transform="translate(1011.06 1967.73) scale(0.815 1.04)" style="font-size:36.8px;font-weight:700;" fill="#000" text-anchor="end">0.04</text>
<text transform="translate(1012.10 2048.98) scale(0.815 1.04)" style="font-size:36.8px;font-weight:700;" fill="#000" text-anchor="end">0.02</text>
<text transform="translate(1012.13 2126.13) scale(0.815 1.04)" style="font-size:36.8px;font-weight:700;" fill="#000" text-anchor="end">0</text>
<line x1="1098.17" y1="1879.14" x2="1098.17" y2="1909.96" stroke="#231f20" stroke-width="4.1" stroke-linecap="butt"/>
<line x1="1080.57" y1="1879.14" x2="1115.77" y2="1879.14" stroke="#231f20" stroke-width="4.1" stroke-linecap="butt"/>
<line x1="1080.57" y1="1909.96" x2="1115.77" y2="1909.96" stroke="#231f20" stroke-width="4.1" stroke-linecap="butt"/>
<line x1="1167.69" y1="1889.01" x2="1167.69" y2="1922.29" stroke="#231f20" stroke-width="4.1" stroke-linecap="butt"/>
<line x1="1150.09" y1="1889.01" x2="1185.29" y2="1889.01" stroke="#231f20" stroke-width="4.1" stroke-linecap="butt"/>
<line x1="1150.09" y1="1922.29" x2="1185.29" y2="1922.29" stroke="#231f20" stroke-width="4.1" stroke-linecap="butt"/>
<g fill="#7d7f82" fill-opacity="0.6" stroke="#6f7174" stroke-opacity="0.35" stroke-width="1">
<ellipse cx="1083.4" cy="1875.9" rx="5.9" ry="6.6"/>
<ellipse cx="1113.0" cy="1874.2" rx="5.9" ry="6.6"/>
<ellipse cx="1098.2" cy="1879.1" rx="5.9" ry="6.6"/>
<ellipse cx="1074.0" cy="1895.9" rx="5.9" ry="6.6"/>
<ellipse cx="1083.9" cy="1903.3" rx="5.9" ry="6.6"/>
<ellipse cx="1122.3" cy="1901.8" rx="5.9" ry="6.6"/>
<ellipse cx="1112.2" cy="1908.2" rx="5.9" ry="6.6"/>
<ellipse cx="1097.7" cy="1914.2" rx="5.9" ry="6.6"/>
<ellipse cx="1152.9" cy="1884.1" rx="5.9" ry="6.6"/>
<ellipse cx="1182.5" cy="1884.1" rx="5.9" ry="6.6"/>
<ellipse cx="1167.7" cy="1891.0" rx="5.9" ry="6.6"/>
<ellipse cx="1143.3" cy="1911.2" rx="5.9" ry="6.6"/>
<ellipse cx="1191.8" cy="1912.4" rx="5.9" ry="6.6"/>
<ellipse cx="1157.3" cy="1914.9" rx="5.9" ry="6.6"/>
<ellipse cx="1182.0" cy="1921.8" rx="5.9" ry="6.6"/>
<ellipse cx="1167.2" cy="1928.0" rx="5.9" ry="6.6"/>
</g>
<line x1="1100.14" y1="1848.33" x2="1165.47" y2="1848.33" stroke="#6d6e71" stroke-width="4.3" stroke-linecap="butt"/>
<text transform="translate(1128.12 1836.50) scale(0.82 1.04)" style="font-size:32.2px;font-weight:400;font-style:italic;" fill="#000" text-anchor="middle">p=0.168</text>
<text transform="translate(936.20 1932.10) rotate(-90) scale(1.0 1.025)" style="font-size:40.8px;font-weight:700;" fill="#000" text-anchor="middle">Tb.Th (mm)</text>
</g>
<g class="panel" id="p-h3">
<path d="M1466.12 2116.79V1889.74H1535.15V2116.79" fill="#e6e6e6" stroke="#231f20" stroke-width="4.1" stroke-linejoin="round"/>
<path d="M1535.15 2116.79V1893.20H1604.91V2116.79" fill="#45a3d2" stroke="#231f20" stroke-width="4.1" stroke-linejoin="round"/>
<line x1="1430.00" y1="1790.32" x2="1430.00" y2="2116.79" stroke="#231f20" stroke-width="4.1" stroke-linecap="butt"/>
<line x1="1421.75" y1="2116.79" x2="1642.87" y2="2116.79" stroke="#231f20" stroke-width="4.1" stroke-linecap="butt"/>
<line x1="1421.60" y1="1792.37" x2="1430.00" y2="1792.37" stroke="#231f20" stroke-width="4.1" stroke-linecap="butt"/>
<line x1="1421.60" y1="1900.10" x2="1430.00" y2="1900.10" stroke="#231f20" stroke-width="4.1" stroke-linecap="butt"/>
<line x1="1421.60" y1="2008.57" x2="1430.00" y2="2008.57" stroke="#231f20" stroke-width="4.1" stroke-linecap="butt"/>
<text transform="translate(1414.98 1804.87) scale(0.815 1.04)" style="font-size:36.8px;font-weight:700;" fill="#000" text-anchor="end">0.3</text>
<text transform="translate(1415.10 1912.60) scale(0.815 1.04)" style="font-size:36.8px;font-weight:700;" fill="#000" text-anchor="end">0.2</text>
<text transform="translate(1414.73 2021.07) scale(0.815 1.04)" style="font-size:36.8px;font-weight:700;" fill="#000" text-anchor="end">0.1</text>
<text transform="translate(1415.13 2125.29) scale(0.815 1.04)" style="font-size:36.8px;font-weight:700;" fill="#000" text-anchor="end">0</text>
<line x1="1500.63" y1="1868.79" x2="1500.63" y2="1906.75" stroke="#231f20" stroke-width="4.1" stroke-linecap="butt"/>
<line x1="1483.03" y1="1868.79" x2="1518.23" y2="1868.79" stroke="#231f20" stroke-width="4.1" stroke-linecap="butt"/>
<line x1="1483.03" y1="1906.75" x2="1518.23" y2="1906.75" stroke="#231f20" stroke-width="4.1" stroke-linecap="butt"/>
<line x1="1570.15" y1="1872.24" x2="1570.15" y2="1909.47" stroke="#231f20" stroke-width="4.1" stroke-linecap="butt"/>
<line x1="1552.55" y1="1872.24" x2="1587.75" y2="1872.24" stroke="#231f20" stroke-width="4.1" stroke-linecap="butt"/>
<line x1="1552.55" y1="1909.47" x2="1587.75" y2="1909.47" stroke="#231f20" stroke-width="4.1" stroke-linecap="butt"/>
<g fill="#7d7f82" fill-opacity="0.6" stroke="#6f7174" stroke-opacity="0.35" stroke-width="1">
<ellipse cx="1493.2" cy="1855.7" rx="5.9" ry="6.6"/>
<ellipse cx="1508.0" cy="1866.3" rx="5.9" ry="6.6"/>
<ellipse cx="1522.3" cy="1884.6" rx="5.9" ry="6.6"/>
<ellipse cx="1478.9" cy="1887.8" rx="5.9" ry="6.6"/>
<ellipse cx="1510.5" cy="1889.0" rx="5.9" ry="6.6"/>
<ellipse cx="1482.1" cy="1904.3" rx="5.9" ry="6.6"/>
<ellipse cx="1506.3" cy="1905.8" rx="5.9" ry="6.6"/>
<ellipse cx="1494.5" cy="1909.2" rx="5.9" ry="6.6"/>
<ellipse cx="1593.8" cy="1866.8" rx="5.9" ry="6.6"/>
<ellipse cx="1545.7" cy="1872.5" rx="5.9" ry="6.6"/>
<ellipse cx="1583.7" cy="1879.6" rx="5.9" ry="6.6"/>
<ellipse cx="1555.6" cy="1887.8" rx="5.9" ry="6.6"/>
<ellipse cx="1569.7" cy="1890.2" rx="5.9" ry="6.6"/>
<ellipse cx="1554.9" cy="1900.1" rx="5.9" ry="6.6"/>
<ellipse cx="1584.9" cy="1912.4" rx="5.9" ry="6.6"/>
<ellipse cx="1569.7" cy="1919.8" rx="5.9" ry="6.6"/>
</g>
<line x1="1497.43" y1="1832.31" x2="1563.50" y2="1832.31" stroke="#6d6e71" stroke-width="4.3" stroke-linecap="butt"/>
<text transform="translate(1525.90 1819.24) scale(0.82 1.04)" style="font-size:32.2px;font-weight:400;font-style:italic;" fill="#000" text-anchor="middle">p=0.753</text>
<text transform="translate(1339.20 1931.00) rotate(-90) scale(1.0 1.025)" style="font-size:40.8px;font-weight:700;" fill="#000" text-anchor="middle">Tb.Sp (mm)</text>
</g>
<g class="panel" id="p-h4">
<path d="M1830.73 2117.60V1873.47H1899.75V2117.60" fill="#e6e6e6" stroke="#231f20" stroke-width="4.1" stroke-linejoin="round"/>
<path d="M1899.75 2117.60V1871.75H1969.27V2117.60" fill="#45a3d2" stroke="#231f20" stroke-width="4.1" stroke-linejoin="round"/>
<line x1="1795.00" y1="1791.25" x2="1795.00" y2="2117.60" stroke="#231f20" stroke-width="4.1" stroke-linecap="butt"/>
<line x1="1786.85" y1="2117.60" x2="2006.00" y2="2117.60" stroke="#231f20" stroke-width="4.1" stroke-linecap="butt"/>
<line x1="1786.60" y1="1793.30" x2="1795.00" y2="1793.30" stroke="#231f20" stroke-width="4.1" stroke-linecap="butt"/>
<line x1="1786.60" y1="1901.40" x2="1795.00" y2="1901.40" stroke="#231f20" stroke-width="4.1" stroke-linecap="butt"/>
<line x1="1786.60" y1="2009.80" x2="1795.00" y2="2009.80" stroke="#231f20" stroke-width="4.1" stroke-linecap="butt"/>
<text transform="translate(1773.58 1805.80) scale(0.815 1.04)" style="font-size:36.8px;font-weight:700;" fill="#000" text-anchor="end">6</text>
<text transform="translate(1772.66 1913.90) scale(0.815 1.04)" style="font-size:36.8px;font-weight:700;" fill="#000" text-anchor="end">4</text>
<text transform="translate(1773.70 2022.30) scale(0.815 1.04)" style="font-size:36.8px;font-weight:700;" fill="#000" text-anchor="end">2</text>
<text transform="translate(1773.73 2126.10) scale(0.815 1.04)" style="font-size:36.8px;font-weight:700;" fill="#000" text-anchor="end">0</text>
<line x1="1865.73" y1="1854.99" x2="1865.73" y2="1888.27" stroke="#231f20" stroke-width="4.1" stroke-linecap="butt"/>
<line x1="1848.13" y1="1854.99" x2="1883.33" y2="1854.99" stroke="#231f20" stroke-width="4.1" stroke-linecap="butt"/>
<line x1="1848.13" y1="1888.27" x2="1883.33" y2="1888.27" stroke="#231f20" stroke-width="4.1" stroke-linecap="butt"/>
<line x1="1934.76" y1="1852.03" x2="1934.76" y2="1887.28" stroke="#231f20" stroke-width="4.1" stroke-linecap="butt"/>
<line x1="1917.16" y1="1852.03" x2="1952.36" y2="1852.03" stroke="#231f20" stroke-width="4.1" stroke-linecap="butt"/>
<line x1="1917.16" y1="1887.28" x2="1952.36" y2="1887.28" stroke="#231f20" stroke-width="4.1" stroke-linecap="butt"/>
<g fill="#7d7f82" fill-opacity="0.6" stroke="#6f7174" stroke-opacity="0.35" stroke-width="1">
<ellipse cx="1843.8" cy="1854.5" rx="5.9" ry="6.6"/>
<ellipse cx="1857.8" cy="1855.2" rx="5.9" ry="6.6"/>
<ellipse cx="1887.4" cy="1855.2" rx="5.9" ry="6.6"/>
<ellipse cx="1880.0" cy="1866.3" rx="5.9" ry="6.6"/>
<ellipse cx="1847.5" cy="1875.0" rx="5.9" ry="6.6"/>
<ellipse cx="1888.2" cy="1875.0" rx="5.9" ry="6.6"/>
<ellipse cx="1873.1" cy="1890.2" rx="5.9" ry="6.6"/>
<ellipse cx="1857.8" cy="1899.6" rx="5.9" ry="6.6"/>
<ellipse cx="1945.9" cy="1842.2" rx="5.9" ry="6.6"/>
<ellipse cx="1920.2" cy="1850.3" rx="5.9" ry="6.6"/>
<ellipse cx="1935.0" cy="1860.7" rx="5.9" ry="6.6"/>
<ellipse cx="1914.5" cy="1868.1" rx="5.9" ry="6.6"/>
<ellipse cx="1955.2" cy="1871.0" rx="5.9" ry="6.6"/>
<ellipse cx="1920.7" cy="1882.8" rx="5.9" ry="6.6"/>
<ellipse cx="1949.1" cy="1887.8" rx="5.9" ry="6.6"/>
<ellipse cx="1934.8" cy="1892.7" rx="5.9" ry="6.6"/>
</g>
<line x1="1862.78" y1="1819.98" x2="1928.10" y2="1819.98" stroke="#6d6e71" stroke-width="4.3" stroke-linecap="butt"/>
<text transform="translate(1890.51 1806.91) scale(0.82 1.04)" style="font-size:32.2px;font-weight:400;font-style:italic;" fill="#000" text-anchor="middle">p=0.819</text>
<text transform="translate(1742.00 1932.40) rotate(-90) scale(1.0 1.025)" style="font-size:40.8px;font-weight:700;" fill="#000" text-anchor="middle">Tb.N (1/mm)</text>
</g>
<text transform="translate(2.32 158.00) scale(1.04 1.0)" style="font-size:52px;font-weight:700;" fill="#000">a.</text>
<text transform="translate(61.03 158.00) scale(0.82 1.015)" style="font-size:45px;font-weight:700;" fill="#000">Body Weight</text>
<text transform="translate(474.39 158.00) scale(1.04 1.0)" style="font-size:52px;font-weight:700;" fill="#000">b.</text>
<text transform="translate(536.94 158.00) scale(0.82 1.015)" style="font-size:45px;font-weight:700;" fill="#000">Spine Trabecular Bone</text>
<text transform="translate(-0.21 679.75) scale(1.04 1.0)" style="font-size:52px;font-weight:700;" fill="#000">c.</text>
<text transform="translate(59.43 679.75) scale(0.82 1.015)" style="font-size:45px;font-weight:700;" fill="#000">Femur Cortical Bone</text>
<text transform="translate(473.88 679.75) scale(1.04 1.0)" style="font-size:52px;font-weight:700;" fill="#000">d.</text>
<text transform="translate(536.73 679.75) scale(0.82 1.015)" style="font-size:45px;font-weight:700;" fill="#000">Femur Trabecular Bone</text>
<text transform="translate(-1.15 1202.80) scale(1.04 1.0)" style="font-size:52px;font-weight:700;" fill="#000">e.</text>
<text transform="translate(59.53 1202.80) scale(0.82 1.015)" style="font-size:45px;font-weight:700;" fill="#000">Body Weight</text>
<text transform="translate(474.08 1202.80) scale(1.04 1.0)" style="font-size:52px;font-weight:700;" fill="#000">f.</text>
<text transform="translate(522.14 1202.80) scale(0.82 1.015)" style="font-size:45px;font-weight:700;" fill="#000">Spine Trabecular Bone</text>
<text transform="translate(-0.32 1724.90) scale(1.04 1.0)" style="font-size:52px;font-weight:700;" fill="#000">g.</text>
<text transform="translate(62.48 1724.90) scale(0.82 1.015)" style="font-size:45px;font-weight:700;" fill="#000">Femur Cortical Bone</text>
<text transform="translate(474.17 1724.90) scale(1.04 1.0)" style="font-size:52px;font-weight:700;" fill="#000">h.</text>
<text transform="translate(536.73 1724.90) scale(0.82 1.015)" style="font-size:45px;font-weight:700;" fill="#000">Femur Trabecular Bone</text>
<rect x="68.20" y="5.30" width="48.20" height="48.90" rx="1.8" fill="#ffffff" stroke="#231f20" stroke-width="4.1"/>
<text transform="translate(128.70 43.00) scale(1.0 1.02)" style="font-size:40.55px;font-weight:700;" fill="#000">Female WT</text>
<rect x="551.30" y="5.30" width="48.20" height="48.90" rx="1.8" fill="#f29222" stroke="#231f20" stroke-width="4.1"/>
<text transform="translate(610.70 43.00) scale(1.0 1.02)" style="font-size:40.55px;font-weight:700;" fill="#000">Female L2ACgKO</text>
<rect x="1119.40" y="5.30" width="48.80" height="48.90" rx="1.8" fill="#e6e6e6" stroke="#231f20" stroke-width="4.1"/>
<text transform="translate(1180.60 43.00) scale(1.0 1.02)" style="font-size:40.55px;font-weight:700;" fill="#000">Male WT</text>
<rect x="1587.70" y="5.30" width="48.40" height="48.90" rx="1.8" fill="#45a3d2" stroke="#231f20" stroke-width="4.1"/>
<text transform="translate(1650.50 43.00) scale(1.0 1.02)" style="font-size:40.55px;font-weight:700;" fill="#000">Male L2ACgKO</text>
</svg>
</body>
</html>
